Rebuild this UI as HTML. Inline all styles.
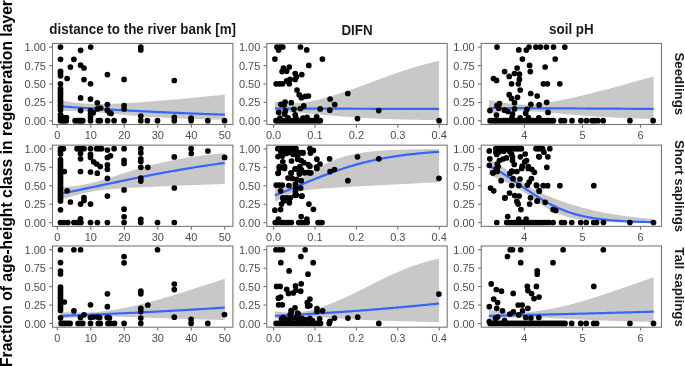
<!DOCTYPE html><html><head><meta charset="utf-8"><style>html,body{margin:0;padding:0;background:#fff;overflow:hidden}svg{display:block;will-change:transform}text{font-family:"Liberation Sans",sans-serif}</style></head><body>
<svg width="685" height="366" viewBox="0 0 685 366">
<rect width="685" height="366" fill="#fff"/>
<polygon points="60.50,100.24 62.35,100.60 64.19,100.95 66.04,101.28 67.88,101.59 69.73,101.89 71.58,102.17 73.42,102.43 75.27,102.67 77.11,102.89 78.96,103.09 80.81,103.27 82.65,103.43 84.50,103.57 86.34,103.69 88.19,103.79 90.04,103.88 91.88,103.94 93.73,103.99 95.58,104.03 97.42,104.05 99.27,104.05 101.11,104.05 102.96,104.03 104.81,104.00 106.65,103.97 108.50,103.92 110.34,103.87 112.19,103.80 114.04,103.73 115.88,103.66 117.73,103.58 119.57,103.49 121.42,103.40 123.27,103.30 125.11,103.20 126.96,103.10 128.80,102.99 130.65,102.87 132.50,102.76 134.34,102.64 136.19,102.52 138.03,102.39 139.88,102.27 141.73,102.14 143.57,102.00 145.42,101.87 147.27,101.73 149.11,101.59 150.96,101.45 152.80,101.31 154.65,101.16 156.50,101.02 158.34,100.87 160.19,100.72 162.03,100.56 163.88,100.41 165.73,100.26 167.57,100.10 169.42,99.94 171.26,99.78 173.11,99.62 174.96,99.46 176.80,99.29 178.65,99.13 180.49,98.96 182.34,98.79 184.19,98.62 186.03,98.45 187.88,98.28 189.72,98.11 191.57,97.93 193.42,97.76 195.26,97.58 197.11,97.40 198.96,97.22 200.80,97.05 202.65,96.86 204.49,96.68 206.34,96.50 208.19,96.32 210.03,96.13 211.88,95.95 213.72,95.76 215.57,95.57 217.42,95.38 219.26,95.19 221.11,95.00 222.95,94.81 224.80,94.62 224.80,119.72 222.95,119.69 221.11,119.65 219.26,119.61 217.42,119.57 215.57,119.53 213.72,119.49 211.88,119.45 210.03,119.40 208.19,119.35 206.34,119.30 204.49,119.26 202.65,119.20 200.80,119.15 198.96,119.10 197.11,119.04 195.26,118.98 193.42,118.92 191.57,118.86 189.72,118.80 187.88,118.73 186.03,118.66 184.19,118.59 182.34,118.52 180.49,118.44 178.65,118.37 176.80,118.29 174.96,118.21 173.11,118.12 171.26,118.04 169.42,117.95 167.57,117.86 165.73,117.76 163.88,117.67 162.03,117.57 160.19,117.46 158.34,117.36 156.50,117.25 154.65,117.14 152.80,117.02 150.96,116.91 149.11,116.79 147.27,116.66 145.42,116.54 143.57,116.41 141.73,116.27 139.88,116.14 138.03,116.00 136.19,115.86 134.34,115.71 132.50,115.56 130.65,115.41 128.80,115.25 126.96,115.10 125.11,114.94 123.27,114.77 121.42,114.61 119.57,114.44 117.73,114.27 115.88,114.10 114.04,113.93 112.19,113.75 110.34,113.58 108.50,113.41 106.65,113.23 104.81,113.06 102.96,112.89 101.11,112.72 99.27,112.56 97.42,112.39 95.58,112.24 93.73,112.09 91.88,111.95 90.04,111.81 88.19,111.69 86.34,111.57 84.50,111.46 82.65,111.37 80.81,111.28 78.96,111.21 77.11,111.15 75.27,111.10 73.42,111.06 71.58,111.03 69.73,111.01 67.88,111.00 66.04,110.99 64.19,111.00 62.35,111.01 60.50,111.03" fill="#c8c8c8"/>
<polyline points="60.50,106.38 62.35,106.51 64.19,106.64 66.04,106.77 67.88,106.89 69.73,107.02 71.58,107.14 73.42,107.27 75.27,107.39 77.11,107.51 78.96,107.63 80.81,107.75 82.65,107.87 84.50,107.99 86.34,108.11 88.19,108.22 90.04,108.34 91.88,108.45 93.73,108.57 95.58,108.68 97.42,108.79 99.27,108.91 101.11,109.02 102.96,109.13 104.81,109.24 106.65,109.34 108.50,109.45 110.34,109.56 112.19,109.66 114.04,109.77 115.88,109.87 117.73,109.98 119.57,110.08 121.42,110.18 123.27,110.28 125.11,110.38 126.96,110.48 128.80,110.58 130.65,110.68 132.50,110.77 134.34,110.87 136.19,110.96 138.03,111.06 139.88,111.15 141.73,111.25 143.57,111.34 145.42,111.43 147.27,111.52 149.11,111.61 150.96,111.70 152.80,111.79 154.65,111.88 156.50,111.96 158.34,112.05 160.19,112.13 162.03,112.22 163.88,112.30 165.73,112.39 167.57,112.47 169.42,112.55 171.26,112.63 173.11,112.71 174.96,112.79 176.80,112.87 178.65,112.95 180.49,113.03 182.34,113.11 184.19,113.18 186.03,113.26 187.88,113.33 189.72,113.41 191.57,113.48 193.42,113.55 195.26,113.63 197.11,113.70 198.96,113.77 200.80,113.84 202.65,113.91 204.49,113.98 206.34,114.05 208.19,114.12 210.03,114.18 211.88,114.25 213.72,114.32 215.57,114.38 217.42,114.45 219.26,114.51 221.11,114.57 222.95,114.64 224.80,114.70" fill="none" stroke="#3366ff" stroke-width="2.2" stroke-linejoin="round"/>
<g fill="#000">
<circle cx="60.5" cy="47.05" r="2.85"/>
<circle cx="90.7" cy="47.05" r="2.85"/>
<circle cx="140.8" cy="47.05" r="2.85"/>
<circle cx="80.6" cy="50.3" r="2.85"/>
<circle cx="140.8" cy="49.9" r="2.85"/>
<circle cx="60.5" cy="59.3" r="2.85"/>
<circle cx="73.9" cy="59.3" r="2.85"/>
<circle cx="80.6" cy="65.2" r="2.85"/>
<circle cx="70.4" cy="67.1" r="2.85"/>
<circle cx="84.0" cy="68.0" r="2.85"/>
<circle cx="60.5" cy="71.3" r="2.85"/>
<circle cx="60.5" cy="73.5" r="2.85"/>
<circle cx="60.5" cy="75.8" r="2.85"/>
<circle cx="107.4" cy="74.6" r="2.85"/>
<circle cx="67.1" cy="78.5" r="2.85"/>
<circle cx="124.1" cy="79.4" r="2.85"/>
<circle cx="84.0" cy="79.6" r="2.85"/>
<circle cx="174.3" cy="80.5" r="2.85"/>
<circle cx="60.5" cy="83.75" r="2.85"/>
<circle cx="90.5" cy="83.75" r="2.85"/>
<circle cx="60.5" cy="88.5" r="2.85"/>
<circle cx="60.5" cy="90.9" r="2.85"/>
<circle cx="60.5" cy="93.3" r="2.85"/>
<circle cx="60.5" cy="95.7" r="2.85"/>
<circle cx="60.5" cy="98.1" r="2.85"/>
<circle cx="60.5" cy="100.5" r="2.85"/>
<circle cx="60.5" cy="102.9" r="2.85"/>
<circle cx="60.5" cy="105.3" r="2.85"/>
<circle cx="60.5" cy="107.7" r="2.85"/>
<circle cx="60.5" cy="110.1" r="2.85"/>
<circle cx="80.6" cy="97.9" r="2.85"/>
<circle cx="90.5" cy="99.1" r="2.85"/>
<circle cx="97.3" cy="102.8" r="2.85"/>
<circle cx="107.4" cy="104.5" r="2.85"/>
<circle cx="124.1" cy="105.6" r="2.85"/>
<circle cx="100.6" cy="108.0" r="2.85"/>
<circle cx="97.3" cy="108.9" r="2.85"/>
<circle cx="124.1" cy="108.9" r="2.85"/>
<circle cx="80.6" cy="110.6" r="2.85"/>
<circle cx="90.5" cy="110.6" r="2.85"/>
<circle cx="107.4" cy="110.2" r="2.85"/>
<circle cx="93.2" cy="112.8" r="2.85"/>
<circle cx="109.4" cy="112.8" r="2.85"/>
<circle cx="111" cy="113.5" r="2.85"/>
<circle cx="90.5" cy="114.1" r="2.85"/>
<circle cx="60.5" cy="114.5" r="2.85"/>
<circle cx="60.5" cy="117.5" r="2.85"/>
<circle cx="63.5" cy="117.6" r="2.85"/>
<circle cx="66.5" cy="117.6" r="2.85"/>
<circle cx="140.8" cy="116.1" r="2.85"/>
<circle cx="174.3" cy="117.4" r="2.85"/>
<circle cx="191.1" cy="118.2" r="2.85"/>
<circle cx="90.5" cy="117.3" r="2.85"/>
<circle cx="60.5" cy="120.7" r="2.85"/>
<circle cx="62.5" cy="120.7" r="2.85"/>
<circle cx="64.5" cy="120.7" r="2.85"/>
<circle cx="66.3" cy="120.7" r="2.85"/>
<circle cx="75.1" cy="120.7" r="2.85"/>
<circle cx="77.4" cy="120.7" r="2.85"/>
<circle cx="79.5" cy="120.7" r="2.85"/>
<circle cx="81" cy="120.7" r="2.85"/>
<circle cx="82.8" cy="120.7" r="2.85"/>
<circle cx="90.5" cy="120.7" r="2.85"/>
<circle cx="98.3" cy="120.7" r="2.85"/>
<circle cx="100.3" cy="120.7" r="2.85"/>
<circle cx="107.6" cy="120.7" r="2.85"/>
<circle cx="114.1" cy="120.7" r="2.85"/>
<circle cx="124.1" cy="120.7" r="2.85"/>
<circle cx="140.8" cy="120.7" r="2.85"/>
<circle cx="147.4" cy="120.7" r="2.85"/>
<circle cx="157.5" cy="120.7" r="2.85"/>
<circle cx="174.3" cy="120.7" r="2.85"/>
<circle cx="191.1" cy="120.7" r="2.85"/>
<circle cx="207.8" cy="120.7" r="2.85"/>
<circle cx="224.5" cy="120.7" r="2.85"/>
</g>
<rect x="52.5" y="43.45" width="180.40" height="81.03" fill="none" stroke="#727272" stroke-width="1.05"/>
<line x1="49.20" y1="120.80" x2="52.50" y2="120.80" stroke="#727272" stroke-width="1.1"/>
<text x="46.00" y="124.80" font-size="11" fill="#4d4d4d" text-anchor="end">0.00</text>
<line x1="49.20" y1="102.38" x2="52.50" y2="102.38" stroke="#727272" stroke-width="1.1"/>
<text x="46.00" y="106.38" font-size="11" fill="#4d4d4d" text-anchor="end">0.25</text>
<line x1="49.20" y1="83.97" x2="52.50" y2="83.97" stroke="#727272" stroke-width="1.1"/>
<text x="46.00" y="87.97" font-size="11" fill="#4d4d4d" text-anchor="end">0.50</text>
<line x1="49.20" y1="65.55" x2="52.50" y2="65.55" stroke="#727272" stroke-width="1.1"/>
<text x="46.00" y="69.55" font-size="11" fill="#4d4d4d" text-anchor="end">0.75</text>
<line x1="49.20" y1="47.13" x2="52.50" y2="47.13" stroke="#727272" stroke-width="1.1"/>
<text x="46.00" y="51.13" font-size="11" fill="#4d4d4d" text-anchor="end">1.00</text>
<line x1="57.30" y1="124.48" x2="57.30" y2="127.78" stroke="#727272" stroke-width="1.1"/>
<text x="57.30" y="138.78" font-size="11" fill="#4d4d4d" text-anchor="middle">0</text>
<line x1="90.80" y1="124.48" x2="90.80" y2="127.78" stroke="#727272" stroke-width="1.1"/>
<text x="90.80" y="138.78" font-size="11" fill="#4d4d4d" text-anchor="middle">10</text>
<line x1="124.30" y1="124.48" x2="124.30" y2="127.78" stroke="#727272" stroke-width="1.1"/>
<text x="124.30" y="138.78" font-size="11" fill="#4d4d4d" text-anchor="middle">20</text>
<line x1="157.80" y1="124.48" x2="157.80" y2="127.78" stroke="#727272" stroke-width="1.1"/>
<text x="157.80" y="138.78" font-size="11" fill="#4d4d4d" text-anchor="middle">30</text>
<line x1="191.30" y1="124.48" x2="191.30" y2="127.78" stroke="#727272" stroke-width="1.1"/>
<text x="191.30" y="138.78" font-size="11" fill="#4d4d4d" text-anchor="middle">40</text>
<line x1="224.80" y1="124.48" x2="224.80" y2="127.78" stroke="#727272" stroke-width="1.1"/>
<text x="224.80" y="138.78" font-size="11" fill="#4d4d4d" text-anchor="middle">50</text>
<polygon points="274.90,101.30 276.74,101.65 278.59,101.98 280.43,102.27 282.28,102.52 284.12,102.75 285.97,102.93 287.81,103.07 289.66,103.17 291.50,103.22 293.35,103.23 295.19,103.20 297.04,103.12 298.88,102.99 300.73,102.83 302.57,102.62 304.42,102.39 306.26,102.11 308.11,101.81 309.95,101.48 311.80,101.12 313.64,100.74 315.49,100.33 317.33,99.90 319.18,99.46 321.02,98.99 322.87,98.51 324.71,98.02 326.56,97.50 328.40,96.98 330.25,96.44 332.09,95.88 333.94,95.32 335.78,94.74 337.63,94.16 339.47,93.56 341.32,92.95 343.16,92.34 345.01,91.71 346.85,91.08 348.70,90.44 350.54,89.79 352.39,89.14 354.23,88.48 356.08,87.82 357.92,87.15 359.77,86.48 361.61,85.81 363.46,85.13 365.30,84.45 367.15,83.77 368.99,83.08 370.84,82.40 372.68,81.72 374.53,81.03 376.37,80.35 378.22,79.67 380.06,78.99 381.91,78.32 383.75,77.65 385.60,76.98 387.44,76.31 389.29,75.65 391.13,75.00 392.98,74.35 394.82,73.70 396.67,73.07 398.51,72.43 400.36,71.81 402.20,71.19 404.05,70.58 405.89,69.98 407.74,69.39 409.58,68.81 411.43,68.23 413.27,67.66 415.12,67.11 416.96,66.56 418.81,66.02 420.65,65.49 422.50,64.97 424.34,64.46 426.19,63.96 428.03,63.47 429.88,62.99 431.72,62.53 433.57,62.07 435.41,61.62 437.26,61.18 439.10,60.75 439.10,120.19 437.26,120.17 435.41,120.14 433.57,120.12 431.72,120.09 429.88,120.06 428.03,120.03 426.19,120.00 424.34,119.97 422.50,119.94 420.65,119.90 418.81,119.87 416.96,119.83 415.12,119.80 413.27,119.76 411.43,119.72 409.58,119.67 407.74,119.63 405.89,119.58 404.05,119.54 402.20,119.49 400.36,119.44 398.51,119.38 396.67,119.33 394.82,119.27 392.98,119.21 391.13,119.15 389.29,119.09 387.44,119.02 385.60,118.95 383.75,118.88 381.91,118.81 380.06,118.73 378.22,118.65 376.37,118.57 374.53,118.49 372.68,118.40 370.84,118.31 368.99,118.22 367.15,118.12 365.30,118.02 363.46,117.92 361.61,117.81 359.77,117.70 357.92,117.59 356.08,117.47 354.23,117.35 352.39,117.22 350.54,117.09 348.70,116.96 346.85,116.82 345.01,116.68 343.16,116.54 341.32,116.39 339.47,116.24 337.63,116.08 335.78,115.92 333.94,115.75 332.09,115.59 330.25,115.42 328.40,115.24 326.56,115.07 324.71,114.89 322.87,114.70 321.02,114.52 319.18,114.34 317.33,114.16 315.49,113.97 313.64,113.79 311.80,113.62 309.95,113.45 308.11,113.28 306.26,113.13 304.42,112.99 302.57,112.86 300.73,112.74 298.88,112.65 297.04,112.57 295.19,112.52 293.35,112.49 291.50,112.49 289.66,112.51 287.81,112.56 285.97,112.62 284.12,112.71 282.28,112.82 280.43,112.95 278.59,113.08 276.74,113.23 274.90,113.39" fill="#c8c8c8"/>
<polyline points="274.90,108.49 276.74,108.50 278.59,108.50 280.43,108.51 282.28,108.51 284.12,108.52 285.97,108.52 287.81,108.53 289.66,108.54 291.50,108.54 293.35,108.55 295.19,108.55 297.04,108.56 298.88,108.56 300.73,108.57 302.57,108.57 304.42,108.58 306.26,108.59 308.11,108.59 309.95,108.60 311.80,108.60 313.64,108.61 315.49,108.61 317.33,108.62 319.18,108.62 321.02,108.63 322.87,108.64 324.71,108.64 326.56,108.65 328.40,108.65 330.25,108.66 332.09,108.66 333.94,108.67 335.78,108.67 337.63,108.68 339.47,108.68 341.32,108.69 343.16,108.70 345.01,108.70 346.85,108.71 348.70,108.71 350.54,108.72 352.39,108.72 354.23,108.73 356.08,108.73 357.92,108.74 359.77,108.74 361.61,108.75 363.46,108.76 365.30,108.76 367.15,108.77 368.99,108.77 370.84,108.78 372.68,108.78 374.53,108.79 376.37,108.79 378.22,108.80 380.06,108.80 381.91,108.81 383.75,108.82 385.60,108.82 387.44,108.83 389.29,108.83 391.13,108.84 392.98,108.84 394.82,108.85 396.67,108.85 398.51,108.86 400.36,108.86 402.20,108.87 404.05,108.88 405.89,108.88 407.74,108.89 409.58,108.89 411.43,108.90 413.27,108.90 415.12,108.91 416.96,108.91 418.81,108.92 420.65,108.92 422.50,108.93 424.34,108.93 426.19,108.94 428.03,108.95 429.88,108.95 431.72,108.96 433.57,108.96 435.41,108.97 437.26,108.97 439.10,108.98" fill="none" stroke="#3366ff" stroke-width="2.2" stroke-linejoin="round"/>
<g fill="#000">
<circle cx="276.9" cy="47.0" r="2.85"/>
<circle cx="280.1" cy="47.0" r="2.85"/>
<circle cx="282.8" cy="47.0" r="2.85"/>
<circle cx="278.6" cy="50.1" r="2.85"/>
<circle cx="300.5" cy="47.0" r="2.85"/>
<circle cx="306.7" cy="49.9" r="2.85"/>
<circle cx="274.9" cy="59.1" r="2.85"/>
<circle cx="322.4" cy="59.1" r="2.85"/>
<circle cx="308.8" cy="65.4" r="2.85"/>
<circle cx="283.4" cy="68.0" r="2.85"/>
<circle cx="289.3" cy="67.0" r="2.85"/>
<circle cx="282.1" cy="71.6" r="2.85"/>
<circle cx="286.7" cy="71.2" r="2.85"/>
<circle cx="295.2" cy="73.5" r="2.85"/>
<circle cx="301.8" cy="74.6" r="2.85"/>
<circle cx="296.6" cy="76.8" r="2.85"/>
<circle cx="295.2" cy="79.4" r="2.85"/>
<circle cx="290.0" cy="79.4" r="2.85"/>
<circle cx="286.7" cy="80.8" r="2.85"/>
<circle cx="289.3" cy="83.8" r="2.85"/>
<circle cx="276.2" cy="83.8" r="2.85"/>
<circle cx="279.5" cy="83.8" r="2.85"/>
<circle cx="282.5" cy="83.8" r="2.85"/>
<circle cx="297" cy="90.1" r="2.85"/>
<circle cx="299.2" cy="94.8" r="2.85"/>
<circle cx="301.4" cy="97.7" r="2.85"/>
<circle cx="305.1" cy="96.4" r="2.85"/>
<circle cx="308.4" cy="96" r="2.85"/>
<circle cx="285.1" cy="102" r="2.85"/>
<circle cx="280.8" cy="104.3" r="2.85"/>
<circle cx="291.3" cy="102.7" r="2.85"/>
<circle cx="284.1" cy="104.9" r="2.85"/>
<circle cx="303.8" cy="105.9" r="2.85"/>
<circle cx="300.5" cy="108.5" r="2.85"/>
<circle cx="293.9" cy="109.3" r="2.85"/>
<circle cx="278.8" cy="112.4" r="2.85"/>
<circle cx="285.4" cy="110.8" r="2.85"/>
<circle cx="284.7" cy="114.1" r="2.85"/>
<circle cx="295.2" cy="114.8" r="2.85"/>
<circle cx="320.2" cy="108.9" r="2.85"/>
<circle cx="330.1" cy="99.0" r="2.85"/>
<circle cx="334.7" cy="104.5" r="2.85"/>
<circle cx="329.8" cy="110.2" r="2.85"/>
<circle cx="347.8" cy="93.5" r="2.85"/>
<circle cx="357.5" cy="118.6" r="2.85"/>
<circle cx="378.7" cy="110.6" r="2.85"/>
<circle cx="439.1" cy="120.7" r="2.85"/>
<circle cx="316.7" cy="116.8" r="2.85"/>
<circle cx="307.1" cy="117.4" r="2.85"/>
<circle cx="280" cy="118" r="2.85"/>
<circle cx="288" cy="117.8" r="2.85"/>
<circle cx="296" cy="118.2" r="2.85"/>
<circle cx="303" cy="118" r="2.85"/>
<circle cx="276.0" cy="120.7" r="2.85"/>
<circle cx="278.21" cy="120.7" r="2.85"/>
<circle cx="280.43" cy="120.7" r="2.85"/>
<circle cx="282.64" cy="120.7" r="2.85"/>
<circle cx="284.86" cy="120.7" r="2.85"/>
<circle cx="287.07" cy="120.7" r="2.85"/>
<circle cx="289.29" cy="120.7" r="2.85"/>
<circle cx="291.5" cy="120.7" r="2.85"/>
<circle cx="293.72" cy="120.7" r="2.85"/>
<circle cx="295.94" cy="120.7" r="2.85"/>
<circle cx="298.15" cy="120.7" r="2.85"/>
<circle cx="300.37" cy="120.7" r="2.85"/>
<circle cx="302.58" cy="120.7" r="2.85"/>
<circle cx="304.8" cy="120.7" r="2.85"/>
<circle cx="307.01" cy="120.7" r="2.85"/>
<circle cx="309.23" cy="120.7" r="2.85"/>
<circle cx="311.44" cy="120.7" r="2.85"/>
<circle cx="313.66" cy="120.7" r="2.85"/>
<circle cx="315.87" cy="120.7" r="2.85"/>
<circle cx="318.09" cy="120.7" r="2.85"/>
<circle cx="320.3" cy="120.7" r="2.85"/>
</g>
<rect x="266.8" y="43.45" width="180.40" height="81.03" fill="none" stroke="#727272" stroke-width="1.05"/>
<line x1="263.50" y1="120.80" x2="266.80" y2="120.80" stroke="#727272" stroke-width="1.1"/>
<text x="260.30" y="124.80" font-size="11" fill="#4d4d4d" text-anchor="end">0.00</text>
<line x1="263.50" y1="102.38" x2="266.80" y2="102.38" stroke="#727272" stroke-width="1.1"/>
<text x="260.30" y="106.38" font-size="11" fill="#4d4d4d" text-anchor="end">0.25</text>
<line x1="263.50" y1="83.97" x2="266.80" y2="83.97" stroke="#727272" stroke-width="1.1"/>
<text x="260.30" y="87.97" font-size="11" fill="#4d4d4d" text-anchor="end">0.50</text>
<line x1="263.50" y1="65.55" x2="266.80" y2="65.55" stroke="#727272" stroke-width="1.1"/>
<text x="260.30" y="69.55" font-size="11" fill="#4d4d4d" text-anchor="end">0.75</text>
<line x1="263.50" y1="47.13" x2="266.80" y2="47.13" stroke="#727272" stroke-width="1.1"/>
<text x="260.30" y="51.13" font-size="11" fill="#4d4d4d" text-anchor="end">1.00</text>
<line x1="273.60" y1="124.48" x2="273.60" y2="127.78" stroke="#727272" stroke-width="1.1"/>
<text x="273.60" y="138.78" font-size="11" fill="#4d4d4d" text-anchor="middle">0.0</text>
<line x1="315.00" y1="124.48" x2="315.00" y2="127.78" stroke="#727272" stroke-width="1.1"/>
<text x="315.00" y="138.78" font-size="11" fill="#4d4d4d" text-anchor="middle">0.1</text>
<line x1="356.40" y1="124.48" x2="356.40" y2="127.78" stroke="#727272" stroke-width="1.1"/>
<text x="356.40" y="138.78" font-size="11" fill="#4d4d4d" text-anchor="middle">0.2</text>
<line x1="397.80" y1="124.48" x2="397.80" y2="127.78" stroke="#727272" stroke-width="1.1"/>
<text x="397.80" y="138.78" font-size="11" fill="#4d4d4d" text-anchor="middle">0.3</text>
<line x1="439.20" y1="124.48" x2="439.20" y2="127.78" stroke="#727272" stroke-width="1.1"/>
<text x="439.20" y="138.78" font-size="11" fill="#4d4d4d" text-anchor="middle">0.4</text>
<polygon points="488.90,99.88 490.75,100.27 492.60,100.66 494.45,101.03 496.30,101.39 498.15,101.73 500.00,102.07 501.85,102.39 503.70,102.70 505.56,102.99 507.41,103.27 509.26,103.52 511.11,103.76 512.96,103.97 514.81,104.16 516.66,104.32 518.51,104.45 520.36,104.55 522.21,104.62 524.06,104.65 525.91,104.65 527.76,104.61 529.61,104.54 531.46,104.44 533.31,104.31 535.16,104.15 537.01,103.97 538.87,103.77 540.72,103.54 542.57,103.30 544.42,103.04 546.27,102.76 548.12,102.47 549.97,102.17 551.82,101.86 553.67,101.53 555.52,101.20 557.37,100.85 559.22,100.50 561.07,100.14 562.92,99.77 564.77,99.39 566.62,99.00 568.47,98.61 570.32,98.21 572.18,97.81 574.03,97.39 575.88,96.98 577.73,96.55 579.58,96.12 581.43,95.69 583.28,95.25 585.13,94.80 586.98,94.35 588.83,93.90 590.68,93.44 592.53,92.97 594.38,92.50 596.23,92.03 598.08,91.56 599.93,91.08 601.78,90.60 603.63,90.11 605.49,89.62 607.34,89.13 609.19,88.64 611.04,88.14 612.89,87.65 614.74,87.15 616.59,86.65 618.44,86.14 620.29,85.64 622.14,85.14 623.99,84.63 625.84,84.13 627.69,83.62 629.54,83.11 631.39,82.61 633.24,82.10 635.09,81.59 636.94,81.09 638.80,80.58 640.65,80.08 642.50,79.58 644.35,79.08 646.20,78.58 648.05,78.08 649.90,77.58 651.75,77.09 653.60,76.60 653.60,119.02 651.75,118.97 649.90,118.91 648.05,118.86 646.20,118.80 644.35,118.74 642.50,118.68 640.65,118.62 638.80,118.56 636.94,118.49 635.09,118.42 633.24,118.36 631.39,118.28 629.54,118.21 627.69,118.14 625.84,118.06 623.99,117.98 622.14,117.90 620.29,117.82 618.44,117.73 616.59,117.64 614.74,117.56 612.89,117.46 611.04,117.37 609.19,117.27 607.34,117.17 605.49,117.07 603.63,116.96 601.78,116.86 599.93,116.75 598.08,116.63 596.23,116.52 594.38,116.40 592.53,116.28 590.68,116.16 588.83,116.03 586.98,115.90 585.13,115.77 583.28,115.63 581.43,115.49 579.58,115.35 577.73,115.21 575.88,115.06 574.03,114.91 572.18,114.75 570.32,114.60 568.47,114.44 566.62,114.28 564.77,114.12 562.92,113.95 561.07,113.78 559.22,113.61 557.37,113.44 555.52,113.27 553.67,113.09 551.82,112.92 549.97,112.75 548.12,112.57 546.27,112.40 544.42,112.24 542.57,112.07 540.72,111.91 538.87,111.76 537.01,111.62 535.16,111.49 533.31,111.38 531.46,111.28 529.61,111.19 527.76,111.13 525.91,111.09 524.06,111.07 522.21,111.07 520.36,111.10 518.51,111.15 516.66,111.22 514.81,111.31 512.96,111.41 511.11,111.53 509.26,111.66 507.41,111.79 505.56,111.94 503.70,112.09 501.85,112.24 500.00,112.40 498.15,112.56 496.30,112.73 494.45,112.89 492.60,113.06 490.75,113.22 488.90,113.38" fill="#c8c8c8"/>
<polyline points="488.90,107.98 490.75,107.99 492.60,108.00 494.45,108.01 496.30,108.02 498.15,108.03 500.00,108.04 501.85,108.05 503.70,108.06 505.56,108.08 507.41,108.09 509.26,108.10 511.11,108.11 512.96,108.12 514.81,108.13 516.66,108.14 518.51,108.15 520.36,108.16 522.21,108.17 524.06,108.18 525.91,108.19 527.76,108.20 529.61,108.21 531.46,108.22 533.31,108.23 535.16,108.24 537.01,108.25 538.87,108.26 540.72,108.27 542.57,108.29 544.42,108.30 546.27,108.31 548.12,108.32 549.97,108.33 551.82,108.34 553.67,108.35 555.52,108.36 557.37,108.37 559.22,108.38 561.07,108.39 562.92,108.40 564.77,108.41 566.62,108.42 568.47,108.43 570.32,108.44 572.18,108.45 574.03,108.46 575.88,108.47 577.73,108.48 579.58,108.49 581.43,108.50 583.28,108.51 585.13,108.52 586.98,108.53 588.83,108.54 590.68,108.55 592.53,108.56 594.38,108.57 596.23,108.58 598.08,108.59 599.93,108.61 601.78,108.62 603.63,108.63 605.49,108.64 607.34,108.65 609.19,108.66 611.04,108.67 612.89,108.68 614.74,108.69 616.59,108.70 618.44,108.71 620.29,108.72 622.14,108.73 623.99,108.74 625.84,108.75 627.69,108.76 629.54,108.77 631.39,108.78 633.24,108.79 635.09,108.80 636.94,108.81 638.80,108.82 640.65,108.83 642.50,108.84 644.35,108.85 646.20,108.86 648.05,108.87 649.90,108.88 651.75,108.89 653.60,108.90" fill="none" stroke="#3366ff" stroke-width="2.2" stroke-linejoin="round"/>
<g fill="#000">
<circle cx="497.0" cy="47.05" r="2.85"/>
<circle cx="529.0" cy="47.05" r="2.85"/>
<circle cx="535.9" cy="47.05" r="2.85"/>
<circle cx="540.4" cy="47.05" r="2.85"/>
<circle cx="546.4" cy="47.05" r="2.85"/>
<circle cx="553.5" cy="47.05" r="2.85"/>
<circle cx="564.8" cy="47.05" r="2.85"/>
<circle cx="518.8" cy="49.9" r="2.85"/>
<circle cx="526.3" cy="50.1" r="2.85"/>
<circle cx="522.4" cy="59.1" r="2.85"/>
<circle cx="555.2" cy="59.1" r="2.85"/>
<circle cx="529.6" cy="65.4" r="2.85"/>
<circle cx="545.1" cy="67.0" r="2.85"/>
<circle cx="517.1" cy="68.0" r="2.85"/>
<circle cx="504.6" cy="71.6" r="2.85"/>
<circle cx="530.3" cy="71.6" r="2.85"/>
<circle cx="514.5" cy="73.5" r="2.85"/>
<circle cx="519.4" cy="74.2" r="2.85"/>
<circle cx="509.2" cy="76.4" r="2.85"/>
<circle cx="493.5" cy="78.5" r="2.85"/>
<circle cx="496.5" cy="80.4" r="2.85"/>
<circle cx="519.4" cy="79.4" r="2.85"/>
<circle cx="511.5" cy="83.8" r="2.85"/>
<circle cx="518.4" cy="83.8" r="2.85"/>
<circle cx="543.4" cy="83.8" r="2.85"/>
<circle cx="547.4" cy="83.8" r="2.85"/>
<circle cx="559.8" cy="83.8" r="2.85"/>
<circle cx="520.2" cy="90.1" r="2.85"/>
<circle cx="530.7" cy="93.5" r="2.85"/>
<circle cx="537.2" cy="96.0" r="2.85"/>
<circle cx="509.2" cy="94.7" r="2.85"/>
<circle cx="511.5" cy="98.4" r="2.85"/>
<circle cx="517.5" cy="97.3" r="2.85"/>
<circle cx="514.5" cy="102.7" r="2.85"/>
<circle cx="499.4" cy="103.6" r="2.85"/>
<circle cx="497.0" cy="105.6" r="2.85"/>
<circle cx="498.7" cy="108.2" r="2.85"/>
<circle cx="530.9" cy="104.3" r="2.85"/>
<circle cx="539.1" cy="104.9" r="2.85"/>
<circle cx="546.7" cy="102.3" r="2.85"/>
<circle cx="514.5" cy="108.9" r="2.85"/>
<circle cx="504.6" cy="110.2" r="2.85"/>
<circle cx="507.9" cy="111.5" r="2.85"/>
<circle cx="489.9" cy="110.6" r="2.85"/>
<circle cx="527.0" cy="109.3" r="2.85"/>
<circle cx="525.7" cy="113.2" r="2.85"/>
<circle cx="548.0" cy="112.4" r="2.85"/>
<circle cx="496.5" cy="115.1" r="2.85"/>
<circle cx="512.5" cy="114.1" r="2.85"/>
<circle cx="512" cy="117.5" r="2.85"/>
<circle cx="520.2" cy="117.9" r="2.85"/>
<circle cx="528.3" cy="117.5" r="2.85"/>
<circle cx="538.8" cy="117.9" r="2.85"/>
<circle cx="490.1" cy="120.7" r="2.85"/>
<circle cx="492.28" cy="120.7" r="2.85"/>
<circle cx="494.47" cy="120.7" r="2.85"/>
<circle cx="496.65" cy="120.7" r="2.85"/>
<circle cx="498.83" cy="120.7" r="2.85"/>
<circle cx="501.01" cy="120.7" r="2.85"/>
<circle cx="503.2" cy="120.7" r="2.85"/>
<circle cx="505.38" cy="120.7" r="2.85"/>
<circle cx="507.56" cy="120.7" r="2.85"/>
<circle cx="509.74" cy="120.7" r="2.85"/>
<circle cx="511.93" cy="120.7" r="2.85"/>
<circle cx="514.11" cy="120.7" r="2.85"/>
<circle cx="516.29" cy="120.7" r="2.85"/>
<circle cx="518.48" cy="120.7" r="2.85"/>
<circle cx="520.66" cy="120.7" r="2.85"/>
<circle cx="522.84" cy="120.7" r="2.85"/>
<circle cx="525.02" cy="120.7" r="2.85"/>
<circle cx="527.21" cy="120.7" r="2.85"/>
<circle cx="529.39" cy="120.7" r="2.85"/>
<circle cx="531.57" cy="120.7" r="2.85"/>
<circle cx="533.76" cy="120.7" r="2.85"/>
<circle cx="535.94" cy="120.7" r="2.85"/>
<circle cx="538.12" cy="120.7" r="2.85"/>
<circle cx="540.3" cy="120.7" r="2.85"/>
<circle cx="542.49" cy="120.7" r="2.85"/>
<circle cx="544.67" cy="120.7" r="2.85"/>
<circle cx="546.85" cy="120.7" r="2.85"/>
<circle cx="549.03" cy="120.7" r="2.85"/>
<circle cx="551.22" cy="120.7" r="2.85"/>
<circle cx="553.4" cy="120.7" r="2.85"/>
<circle cx="561" cy="120.7" r="2.85"/>
<circle cx="564.5" cy="120.7" r="2.85"/>
<circle cx="572" cy="120.7" r="2.85"/>
<circle cx="580.9" cy="120.7" r="2.85"/>
<circle cx="586.5" cy="120.7" r="2.85"/>
<circle cx="592" cy="120.7" r="2.85"/>
<circle cx="594.6" cy="120.7" r="2.85"/>
<circle cx="597.9" cy="120.7" r="2.85"/>
<circle cx="603.2" cy="120.7" r="2.85"/>
<circle cx="629.9" cy="120.7" r="2.85"/>
<circle cx="653.1" cy="120.7" r="2.85"/>
</g>
<rect x="481.2" y="43.45" width="180.30" height="81.03" fill="none" stroke="#727272" stroke-width="1.05"/>
<line x1="477.90" y1="120.80" x2="481.20" y2="120.80" stroke="#727272" stroke-width="1.1"/>
<text x="474.70" y="124.80" font-size="11" fill="#4d4d4d" text-anchor="end">0.00</text>
<line x1="477.90" y1="102.38" x2="481.20" y2="102.38" stroke="#727272" stroke-width="1.1"/>
<text x="474.70" y="106.38" font-size="11" fill="#4d4d4d" text-anchor="end">0.25</text>
<line x1="477.90" y1="83.97" x2="481.20" y2="83.97" stroke="#727272" stroke-width="1.1"/>
<text x="474.70" y="87.97" font-size="11" fill="#4d4d4d" text-anchor="end">0.50</text>
<line x1="477.90" y1="65.55" x2="481.20" y2="65.55" stroke="#727272" stroke-width="1.1"/>
<text x="474.70" y="69.55" font-size="11" fill="#4d4d4d" text-anchor="end">0.75</text>
<line x1="477.90" y1="47.13" x2="481.20" y2="47.13" stroke="#727272" stroke-width="1.1"/>
<text x="474.70" y="51.13" font-size="11" fill="#4d4d4d" text-anchor="end">1.00</text>
<line x1="524.40" y1="124.48" x2="524.40" y2="127.78" stroke="#727272" stroke-width="1.1"/>
<text x="524.40" y="138.78" font-size="11" fill="#4d4d4d" text-anchor="middle">4</text>
<line x1="582.50" y1="124.48" x2="582.50" y2="127.78" stroke="#727272" stroke-width="1.1"/>
<text x="582.50" y="138.78" font-size="11" fill="#4d4d4d" text-anchor="middle">5</text>
<line x1="640.60" y1="124.48" x2="640.60" y2="127.78" stroke="#727272" stroke-width="1.1"/>
<text x="640.60" y="138.78" font-size="11" fill="#4d4d4d" text-anchor="middle">6</text>
<polygon points="60.50,187.39 62.35,187.24 64.19,187.09 66.04,186.92 67.88,186.74 69.73,186.55 71.58,186.35 73.42,186.13 75.27,185.90 77.11,185.65 78.96,185.38 80.81,185.09 82.65,184.78 84.50,184.44 86.34,184.08 88.19,183.70 90.04,183.29 91.88,182.86 93.73,182.40 95.58,181.93 97.42,181.43 99.27,180.92 101.11,180.39 102.96,179.84 104.81,179.29 106.65,178.72 108.50,178.15 110.34,177.57 112.19,176.98 114.04,176.39 115.88,175.80 117.73,175.21 119.57,174.62 121.42,174.02 123.27,173.44 125.11,172.85 126.96,172.27 128.80,171.69 130.65,171.12 132.50,170.55 134.34,169.99 136.19,169.44 138.03,168.89 139.88,168.35 141.73,167.82 143.57,167.30 145.42,166.78 147.27,166.28 149.11,165.78 150.96,165.30 152.80,164.82 154.65,164.35 156.50,163.89 158.34,163.44 160.19,163.00 162.03,162.57 163.88,162.15 165.73,161.74 167.57,161.34 169.42,160.95 171.26,160.57 173.11,160.19 174.96,159.83 176.80,159.48 178.65,159.13 180.49,158.80 182.34,158.47 184.19,158.16 186.03,157.85 187.88,157.55 189.72,157.26 191.57,156.98 193.42,156.70 195.26,156.44 197.11,156.18 198.96,155.93 200.80,155.68 202.65,155.45 204.49,155.22 206.34,155.00 208.19,154.78 210.03,154.58 211.88,154.38 213.72,154.18 215.57,153.99 217.42,153.81 219.26,153.64 221.11,153.46 222.95,153.30 224.80,153.14 224.80,183.93 222.95,184.00 221.11,184.06 219.26,184.13 217.42,184.20 215.57,184.27 213.72,184.33 211.88,184.40 210.03,184.47 208.19,184.54 206.34,184.61 204.49,184.67 202.65,184.74 200.80,184.81 198.96,184.88 197.11,184.95 195.26,185.02 193.42,185.09 191.57,185.16 189.72,185.23 187.88,185.30 186.03,185.37 184.19,185.45 182.34,185.52 180.49,185.59 178.65,185.66 176.80,185.74 174.96,185.81 173.11,185.88 171.26,185.96 169.42,186.03 167.57,186.11 165.73,186.19 163.88,186.26 162.03,186.34 160.19,186.42 158.34,186.50 156.50,186.58 154.65,186.66 152.80,186.74 150.96,186.83 149.11,186.91 147.27,187.00 145.42,187.08 143.57,187.17 141.73,187.26 139.88,187.35 138.03,187.45 136.19,187.54 134.34,187.64 132.50,187.74 130.65,187.84 128.80,187.95 126.96,188.06 125.11,188.17 123.27,188.29 121.42,188.41 119.57,188.53 117.73,188.66 115.88,188.80 114.04,188.94 112.19,189.10 110.34,189.26 108.50,189.43 106.65,189.61 104.81,189.80 102.96,190.01 101.11,190.23 99.27,190.46 97.42,190.72 95.58,190.99 93.73,191.28 91.88,191.60 90.04,191.93 88.19,192.29 86.34,192.68 84.50,193.08 82.65,193.51 80.81,193.95 78.96,194.42 77.11,194.90 75.27,195.39 73.42,195.90 71.58,196.42 69.73,196.95 67.88,197.48 66.04,198.02 64.19,198.56 62.35,199.10 60.50,199.65" fill="#c8c8c8"/>
<polyline points="60.50,193.75 62.35,193.38 64.19,193.01 66.04,192.63 67.88,192.25 69.73,191.87 71.58,191.49 73.42,191.11 75.27,190.73 77.11,190.35 78.96,189.96 80.81,189.58 82.65,189.19 84.50,188.80 86.34,188.42 88.19,188.03 90.04,187.64 91.88,187.25 93.73,186.86 95.58,186.47 97.42,186.08 99.27,185.69 101.11,185.30 102.96,184.91 104.81,184.52 106.65,184.13 108.50,183.74 110.34,183.35 112.19,182.96 114.04,182.58 115.88,182.19 117.73,181.80 119.57,181.42 121.42,181.03 123.27,180.65 125.11,180.27 126.96,179.89 128.80,179.51 130.65,179.13 132.50,178.75 134.34,178.38 136.19,178.00 138.03,177.63 139.88,177.26 141.73,176.89 143.57,176.53 145.42,176.16 147.27,175.80 149.11,175.44 150.96,175.08 152.80,174.72 154.65,174.37 156.50,174.02 158.34,173.67 160.19,173.32 162.03,172.97 163.88,172.63 165.73,172.29 167.57,171.96 169.42,171.62 171.26,171.29 173.11,170.96 174.96,170.64 176.80,170.31 178.65,169.99 180.49,169.67 182.34,169.36 184.19,169.05 186.03,168.74 187.88,168.43 189.72,168.13 191.57,167.83 193.42,167.53 195.26,167.24 197.11,166.95 198.96,166.66 200.80,166.38 202.65,166.10 204.49,165.82 206.34,165.54 208.19,165.27 210.03,165.00 211.88,164.74 213.72,164.48 215.57,164.22 217.42,163.96 219.26,163.71 221.11,163.46 222.95,163.21 224.80,162.97" fill="none" stroke="#3366ff" stroke-width="2.2" stroke-linejoin="round"/>
<g fill="#000">
<circle cx="60.5" cy="148.7" r="2.85"/>
<circle cx="63.4" cy="148.7" r="2.85"/>
<circle cx="77" cy="148.7" r="2.85"/>
<circle cx="79.2" cy="148.7" r="2.85"/>
<circle cx="81.8" cy="148.7" r="2.85"/>
<circle cx="84" cy="148.7" r="2.85"/>
<circle cx="90.5" cy="148.7" r="2.85"/>
<circle cx="96.7" cy="148.7" r="2.85"/>
<circle cx="99.3" cy="148.7" r="2.85"/>
<circle cx="101.5" cy="148.7" r="2.85"/>
<circle cx="114.1" cy="148.7" r="2.85"/>
<circle cx="124.1" cy="148.7" r="2.85"/>
<circle cx="140.8" cy="148.7" r="2.85"/>
<circle cx="191.1" cy="148.7" r="2.85"/>
<circle cx="60.5" cy="151.3" r="2.85"/>
<circle cx="60.5" cy="154" r="2.85"/>
<circle cx="80.5" cy="153.5" r="2.85"/>
<circle cx="80.5" cy="158.8" r="2.85"/>
<circle cx="107.4" cy="150" r="2.85"/>
<circle cx="90.5" cy="154.4" r="2.85"/>
<circle cx="90.5" cy="157.5" r="2.85"/>
<circle cx="93.6" cy="161.8" r="2.85"/>
<circle cx="96.7" cy="164" r="2.85"/>
<circle cx="100.2" cy="166.6" r="2.85"/>
<circle cx="107.4" cy="157.5" r="2.85"/>
<circle cx="110.5" cy="155.8" r="2.85"/>
<circle cx="107.4" cy="164.9" r="2.85"/>
<circle cx="107.4" cy="169.3" r="2.85"/>
<circle cx="107.4" cy="178.3" r="2.85"/>
<circle cx="107.4" cy="196.1" r="2.85"/>
<circle cx="60.5" cy="159.5" r="2.85"/>
<circle cx="60.5" cy="161.81" r="2.85"/>
<circle cx="60.5" cy="164.11" r="2.85"/>
<circle cx="60.5" cy="166.42" r="2.85"/>
<circle cx="60.5" cy="168.72" r="2.85"/>
<circle cx="60.5" cy="171.03" r="2.85"/>
<circle cx="60.5" cy="173.33" r="2.85"/>
<circle cx="60.5" cy="175.64" r="2.85"/>
<circle cx="60.5" cy="177.94" r="2.85"/>
<circle cx="60.5" cy="180.25" r="2.85"/>
<circle cx="60.5" cy="182.56" r="2.85"/>
<circle cx="60.5" cy="184.86" r="2.85"/>
<circle cx="60.5" cy="187.17" r="2.85"/>
<circle cx="60.5" cy="189.47" r="2.85"/>
<circle cx="60.5" cy="191.78" r="2.85"/>
<circle cx="60.5" cy="194.08" r="2.85"/>
<circle cx="60.5" cy="196.39" r="2.85"/>
<circle cx="60.5" cy="198.69" r="2.85"/>
<circle cx="60.5" cy="201.0" r="2.85"/>
<circle cx="60.5" cy="209.8" r="2.85"/>
<circle cx="64.3" cy="171.5" r="2.85"/>
<circle cx="80.5" cy="171.5" r="2.85"/>
<circle cx="90.5" cy="172" r="2.85"/>
<circle cx="97.3" cy="173.2" r="2.85"/>
<circle cx="67.1" cy="190.8" r="2.85"/>
<circle cx="84" cy="197.5" r="2.85"/>
<circle cx="84" cy="200.5" r="2.85"/>
<circle cx="70.4" cy="202" r="2.85"/>
<circle cx="80.5" cy="204.1" r="2.85"/>
<circle cx="90.5" cy="204.1" r="2.85"/>
<circle cx="80.5" cy="218.8" r="2.85"/>
<circle cx="60.5" cy="222.5" r="2.85"/>
<circle cx="63.8" cy="222.5" r="2.85"/>
<circle cx="67.8" cy="222.5" r="2.85"/>
<circle cx="73.9" cy="222.5" r="2.85"/>
<circle cx="77" cy="222.5" r="2.85"/>
<circle cx="79.2" cy="222.5" r="2.85"/>
<circle cx="80.9" cy="222.5" r="2.85"/>
<circle cx="90.5" cy="222.5" r="2.85"/>
<circle cx="97.4" cy="222.5" r="2.85"/>
<circle cx="107.4" cy="222.5" r="2.85"/>
<circle cx="124.1" cy="222.5" r="2.85"/>
<circle cx="140.8" cy="222.5" r="2.85"/>
<circle cx="157.5" cy="222.5" r="2.85"/>
<circle cx="174.3" cy="222.5" r="2.85"/>
<circle cx="140.8" cy="152.9" r="2.85"/>
<circle cx="140.8" cy="158.8" r="2.85"/>
<circle cx="140.8" cy="161.4" r="2.85"/>
<circle cx="140.8" cy="167.3" r="2.85"/>
<circle cx="147.8" cy="167.3" r="2.85"/>
<circle cx="140.8" cy="178.2" r="2.85"/>
<circle cx="140.8" cy="181.1" r="2.85"/>
<circle cx="124.1" cy="160.3" r="2.85"/>
<circle cx="124.1" cy="163.4" r="2.85"/>
<circle cx="174.3" cy="156.9" r="2.85"/>
<circle cx="174.3" cy="188.0" r="2.85"/>
<circle cx="124.1" cy="189.9" r="2.85"/>
<circle cx="124.1" cy="209.2" r="2.85"/>
<circle cx="124.1" cy="216.8" r="2.85"/>
<circle cx="140.8" cy="219.4" r="2.85"/>
<circle cx="191.3" cy="153.5" r="2.85"/>
<circle cx="207.9" cy="151" r="2.85"/>
<circle cx="224.6" cy="157.4" r="2.85"/>
</g>
<rect x="52.5" y="145.15" width="180.40" height="81.20" fill="none" stroke="#727272" stroke-width="1.05"/>
<line x1="49.20" y1="222.66" x2="52.50" y2="222.66" stroke="#727272" stroke-width="1.1"/>
<text x="46.00" y="226.66" font-size="11" fill="#4d4d4d" text-anchor="end">0.00</text>
<line x1="49.20" y1="204.20" x2="52.50" y2="204.20" stroke="#727272" stroke-width="1.1"/>
<text x="46.00" y="208.20" font-size="11" fill="#4d4d4d" text-anchor="end">0.25</text>
<line x1="49.20" y1="185.75" x2="52.50" y2="185.75" stroke="#727272" stroke-width="1.1"/>
<text x="46.00" y="189.75" font-size="11" fill="#4d4d4d" text-anchor="end">0.50</text>
<line x1="49.20" y1="167.30" x2="52.50" y2="167.30" stroke="#727272" stroke-width="1.1"/>
<text x="46.00" y="171.30" font-size="11" fill="#4d4d4d" text-anchor="end">0.75</text>
<line x1="49.20" y1="148.84" x2="52.50" y2="148.84" stroke="#727272" stroke-width="1.1"/>
<text x="46.00" y="152.84" font-size="11" fill="#4d4d4d" text-anchor="end">1.00</text>
<line x1="57.30" y1="226.35" x2="57.30" y2="229.65" stroke="#727272" stroke-width="1.1"/>
<text x="57.30" y="240.65" font-size="11" fill="#4d4d4d" text-anchor="middle">0</text>
<line x1="90.80" y1="226.35" x2="90.80" y2="229.65" stroke="#727272" stroke-width="1.1"/>
<text x="90.80" y="240.65" font-size="11" fill="#4d4d4d" text-anchor="middle">10</text>
<line x1="124.30" y1="226.35" x2="124.30" y2="229.65" stroke="#727272" stroke-width="1.1"/>
<text x="124.30" y="240.65" font-size="11" fill="#4d4d4d" text-anchor="middle">20</text>
<line x1="157.80" y1="226.35" x2="157.80" y2="229.65" stroke="#727272" stroke-width="1.1"/>
<text x="157.80" y="240.65" font-size="11" fill="#4d4d4d" text-anchor="middle">30</text>
<line x1="191.30" y1="226.35" x2="191.30" y2="229.65" stroke="#727272" stroke-width="1.1"/>
<text x="191.30" y="240.65" font-size="11" fill="#4d4d4d" text-anchor="middle">40</text>
<line x1="224.80" y1="226.35" x2="224.80" y2="229.65" stroke="#727272" stroke-width="1.1"/>
<text x="224.80" y="240.65" font-size="11" fill="#4d4d4d" text-anchor="middle">50</text>
<polygon points="274.90,187.89 276.74,187.62 278.59,187.32 280.43,186.97 282.28,186.58 284.12,186.13 285.97,185.61 287.81,185.01 289.66,184.33 291.50,183.56 293.35,182.70 295.19,181.76 297.04,180.75 298.88,179.68 300.73,178.57 302.57,177.42 304.42,176.26 306.26,175.09 308.11,173.92 309.95,172.75 311.80,171.60 313.64,170.47 315.49,169.36 317.33,168.28 319.18,167.23 321.02,166.21 322.87,165.23 324.71,164.28 326.56,163.38 328.40,162.51 330.25,161.68 332.09,160.88 333.94,160.13 335.78,159.42 337.63,158.74 339.47,158.09 341.32,157.49 343.16,156.91 345.01,156.37 346.85,155.87 348.70,155.39 350.54,154.94 352.39,154.52 354.23,154.13 356.08,153.76 357.92,153.41 359.77,153.09 361.61,152.79 363.46,152.51 365.30,152.25 367.15,152.00 368.99,151.77 370.84,151.56 372.68,151.36 374.53,151.18 376.37,151.01 378.22,150.85 380.06,150.70 381.91,150.57 383.75,150.44 385.60,150.32 387.44,150.21 389.29,150.11 391.13,150.02 392.98,149.93 394.82,149.85 396.67,149.77 398.51,149.71 400.36,149.64 402.20,149.58 404.05,149.53 405.89,149.47 407.74,149.43 409.58,149.38 411.43,149.34 413.27,149.31 415.12,149.27 416.96,149.24 418.81,149.21 420.65,149.18 422.50,149.16 424.34,149.13 426.19,149.11 428.03,149.09 429.88,149.07 431.72,149.05 433.57,149.04 435.41,149.02 437.26,149.01 439.10,149.00 439.10,182.29 437.26,182.38 435.41,182.47 433.57,182.56 431.72,182.65 429.88,182.74 428.03,182.83 426.19,182.92 424.34,183.01 422.50,183.10 420.65,183.19 418.81,183.28 416.96,183.37 415.12,183.46 413.27,183.56 411.43,183.65 409.58,183.74 407.74,183.83 405.89,183.92 404.05,184.02 402.20,184.11 400.36,184.20 398.51,184.29 396.67,184.39 394.82,184.48 392.98,184.57 391.13,184.67 389.29,184.76 387.44,184.85 385.60,184.95 383.75,185.04 381.91,185.14 380.06,185.23 378.22,185.33 376.37,185.43 374.53,185.52 372.68,185.62 370.84,185.72 368.99,185.81 367.15,185.91 365.30,186.01 363.46,186.11 361.61,186.21 359.77,186.31 357.92,186.41 356.08,186.51 354.23,186.61 352.39,186.72 350.54,186.82 348.70,186.93 346.85,187.03 345.01,187.14 343.16,187.25 341.32,187.36 339.47,187.47 337.63,187.59 335.78,187.70 333.94,187.82 332.09,187.94 330.25,188.06 328.40,188.19 326.56,188.32 324.71,188.46 322.87,188.59 321.02,188.74 319.18,188.89 317.33,189.05 315.49,189.21 313.64,189.39 311.80,189.58 309.95,189.78 308.11,190.00 306.26,190.24 304.42,190.51 302.57,190.80 300.73,191.14 298.88,191.52 297.04,191.95 295.19,192.45 293.35,193.01 291.50,193.66 289.66,194.38 287.81,195.19 285.97,196.06 284.12,196.99 282.28,197.96 280.43,198.97 278.59,200.00 276.74,201.03 274.90,202.06" fill="#c8c8c8"/>
<polyline points="274.90,195.36 276.74,194.64 278.59,193.91 280.43,193.18 282.28,192.44 284.12,191.69 285.97,190.94 287.81,190.18 289.66,189.42 291.50,188.66 293.35,187.90 295.19,187.13 297.04,186.36 298.88,185.59 300.73,184.83 302.57,184.06 304.42,183.29 306.26,182.53 308.11,181.77 309.95,181.01 311.80,180.26 313.64,179.51 315.49,178.76 317.33,178.02 319.18,177.29 321.02,176.57 322.87,175.85 324.71,175.14 326.56,174.44 328.40,173.75 330.25,173.07 332.09,172.39 333.94,171.73 335.78,171.08 337.63,170.44 339.47,169.81 341.32,169.19 343.16,168.58 345.01,167.98 346.85,167.40 348.70,166.83 350.54,166.27 352.39,165.72 354.23,165.18 356.08,164.66 357.92,164.15 359.77,163.65 361.61,163.16 363.46,162.69 365.30,162.22 367.15,161.77 368.99,161.33 370.84,160.91 372.68,160.49 374.53,160.09 376.37,159.70 378.22,159.32 380.06,158.95 381.91,158.59 383.75,158.25 385.60,157.91 387.44,157.58 389.29,157.27 391.13,156.96 392.98,156.67 394.82,156.38 396.67,156.10 398.51,155.83 400.36,155.57 402.20,155.32 404.05,155.08 405.89,154.85 407.74,154.62 409.58,154.40 411.43,154.19 413.27,153.99 415.12,153.79 416.96,153.61 418.81,153.42 420.65,153.25 422.50,153.08 424.34,152.91 426.19,152.76 428.03,152.61 429.88,152.46 431.72,152.32 433.57,152.18 435.41,152.05 437.26,151.93 439.10,151.81" fill="none" stroke="#3366ff" stroke-width="2.2" stroke-linejoin="round"/>
<g fill="#000">
<circle cx="277.8" cy="148.7" r="2.85"/>
<circle cx="280.07" cy="148.7" r="2.85"/>
<circle cx="282.35" cy="148.7" r="2.85"/>
<circle cx="284.62" cy="148.7" r="2.85"/>
<circle cx="286.9" cy="148.7" r="2.85"/>
<circle cx="289.18" cy="148.7" r="2.85"/>
<circle cx="291.45" cy="148.7" r="2.85"/>
<circle cx="293.73" cy="148.7" r="2.85"/>
<circle cx="296.0" cy="148.7" r="2.85"/>
<circle cx="309.9" cy="148.7" r="2.85"/>
<circle cx="313.4" cy="150.4" r="2.85"/>
<circle cx="280.9" cy="152.5" r="2.85"/>
<circle cx="283.11" cy="152.5" r="2.85"/>
<circle cx="285.32" cy="152.5" r="2.85"/>
<circle cx="287.53" cy="152.5" r="2.85"/>
<circle cx="289.74" cy="152.5" r="2.85"/>
<circle cx="291.95" cy="152.5" r="2.85"/>
<circle cx="294.16" cy="152.5" r="2.85"/>
<circle cx="296.37" cy="152.5" r="2.85"/>
<circle cx="298.58" cy="152.5" r="2.85"/>
<circle cx="300.79" cy="152.5" r="2.85"/>
<circle cx="303.0" cy="152.5" r="2.85"/>
<circle cx="302.9" cy="153.1" r="2.85"/>
<circle cx="310.4" cy="153.1" r="2.85"/>
<circle cx="278" cy="156.6" r="2.85"/>
<circle cx="282.3" cy="156.1" r="2.85"/>
<circle cx="286.3" cy="153.5" r="2.85"/>
<circle cx="293.3" cy="154.4" r="2.85"/>
<circle cx="297.7" cy="156.1" r="2.85"/>
<circle cx="316.9" cy="159.2" r="2.85"/>
<circle cx="291.5" cy="161" r="2.85"/>
<circle cx="297.7" cy="159.2" r="2.85"/>
<circle cx="301.2" cy="160.5" r="2.85"/>
<circle cx="282.8" cy="161.8" r="2.85"/>
<circle cx="284.5" cy="166.6" r="2.85"/>
<circle cx="303.8" cy="162.7" r="2.85"/>
<circle cx="308.2" cy="164.5" r="2.85"/>
<circle cx="309.9" cy="166.2" r="2.85"/>
<circle cx="320" cy="164" r="2.85"/>
<circle cx="316.5" cy="167.1" r="2.85"/>
<circle cx="279.3" cy="166.6" r="2.85"/>
<circle cx="295" cy="168.8" r="2.85"/>
<circle cx="299.8" cy="166.6" r="2.85"/>
<circle cx="301.2" cy="169.7" r="2.85"/>
<circle cx="278.4" cy="172.8" r="2.85"/>
<circle cx="291.1" cy="172.8" r="2.85"/>
<circle cx="299.4" cy="172.8" r="2.85"/>
<circle cx="304.7" cy="172.8" r="2.85"/>
<circle cx="309.9" cy="172.8" r="2.85"/>
<circle cx="279.3" cy="168.4" r="2.85"/>
<circle cx="284.5" cy="168.4" r="2.85"/>
<circle cx="295.9" cy="168.9" r="2.85"/>
<circle cx="316.9" cy="168.4" r="2.85"/>
<circle cx="278" cy="173.3" r="2.85"/>
<circle cx="291.1" cy="173.3" r="2.85"/>
<circle cx="299.4" cy="174.1" r="2.85"/>
<circle cx="303.8" cy="172.4" r="2.85"/>
<circle cx="308.2" cy="172.4" r="2.85"/>
<circle cx="310.8" cy="172.8" r="2.85"/>
<circle cx="288" cy="178.1" r="2.85"/>
<circle cx="292.4" cy="178.5" r="2.85"/>
<circle cx="296.8" cy="179.4" r="2.85"/>
<circle cx="301.2" cy="180.7" r="2.85"/>
<circle cx="276.2" cy="185.1" r="2.85"/>
<circle cx="279.3" cy="185.1" r="2.85"/>
<circle cx="282.3" cy="185.1" r="2.85"/>
<circle cx="288.9" cy="185.5" r="2.85"/>
<circle cx="295.5" cy="184.2" r="2.85"/>
<circle cx="295.5" cy="188.1" r="2.85"/>
<circle cx="300.7" cy="188.1" r="2.85"/>
<circle cx="280.6" cy="190.8" r="2.85"/>
<circle cx="295.5" cy="191.6" r="2.85"/>
<circle cx="296.3" cy="195.2" r="2.85"/>
<circle cx="302" cy="196" r="2.85"/>
<circle cx="282.8" cy="197.9" r="2.85"/>
<circle cx="286.7" cy="197.9" r="2.85"/>
<circle cx="290.2" cy="197.9" r="2.85"/>
<circle cx="295" cy="195.3" r="2.85"/>
<circle cx="301.6" cy="196.2" r="2.85"/>
<circle cx="283.6" cy="201" r="2.85"/>
<circle cx="288.9" cy="201" r="2.85"/>
<circle cx="281.5" cy="204.1" r="2.85"/>
<circle cx="289.3" cy="202.8" r="2.85"/>
<circle cx="274.9" cy="210.2" r="2.85"/>
<circle cx="280.6" cy="209.6" r="2.85"/>
<circle cx="308.9" cy="204.1" r="2.85"/>
<circle cx="313.4" cy="209.3" r="2.85"/>
<circle cx="301.2" cy="216.6" r="2.85"/>
<circle cx="278.4" cy="219" r="2.85"/>
<circle cx="306.9" cy="219" r="2.85"/>
<circle cx="329.6" cy="158.8" r="2.85"/>
<circle cx="357.5" cy="156.8" r="2.85"/>
<circle cx="378.8" cy="158.8" r="2.85"/>
<circle cx="334.5" cy="169.5" r="2.85"/>
<circle cx="330.1" cy="171.6" r="2.85"/>
<circle cx="347.9" cy="180.7" r="2.85"/>
<circle cx="439" cy="178.3" r="2.85"/>
<circle cx="275.2" cy="222.5" r="2.85"/>
<circle cx="277.5" cy="222.5" r="2.85"/>
<circle cx="279.8" cy="222.5" r="2.85"/>
<circle cx="282.1" cy="222.5" r="2.85"/>
<circle cx="284.4" cy="222.5" r="2.85"/>
<circle cx="286.7" cy="222.5" r="2.85"/>
<circle cx="289.0" cy="222.5" r="2.85"/>
<circle cx="291.3" cy="222.5" r="2.85"/>
<circle cx="298.7" cy="222.5" r="2.85"/>
<circle cx="300.82" cy="222.5" r="2.85"/>
<circle cx="302.95" cy="222.5" r="2.85"/>
<circle cx="305.07" cy="222.5" r="2.85"/>
<circle cx="307.2" cy="222.5" r="2.85"/>
<circle cx="318.0" cy="222.5" r="2.85"/>
<circle cx="320.0" cy="222.5" r="2.85"/>
<circle cx="322.0" cy="222.5" r="2.85"/>
</g>
<rect x="266.8" y="145.15" width="180.40" height="81.20" fill="none" stroke="#727272" stroke-width="1.05"/>
<line x1="263.50" y1="222.66" x2="266.80" y2="222.66" stroke="#727272" stroke-width="1.1"/>
<text x="260.30" y="226.66" font-size="11" fill="#4d4d4d" text-anchor="end">0.00</text>
<line x1="263.50" y1="204.20" x2="266.80" y2="204.20" stroke="#727272" stroke-width="1.1"/>
<text x="260.30" y="208.20" font-size="11" fill="#4d4d4d" text-anchor="end">0.25</text>
<line x1="263.50" y1="185.75" x2="266.80" y2="185.75" stroke="#727272" stroke-width="1.1"/>
<text x="260.30" y="189.75" font-size="11" fill="#4d4d4d" text-anchor="end">0.50</text>
<line x1="263.50" y1="167.30" x2="266.80" y2="167.30" stroke="#727272" stroke-width="1.1"/>
<text x="260.30" y="171.30" font-size="11" fill="#4d4d4d" text-anchor="end">0.75</text>
<line x1="263.50" y1="148.84" x2="266.80" y2="148.84" stroke="#727272" stroke-width="1.1"/>
<text x="260.30" y="152.84" font-size="11" fill="#4d4d4d" text-anchor="end">1.00</text>
<line x1="273.60" y1="226.35" x2="273.60" y2="229.65" stroke="#727272" stroke-width="1.1"/>
<text x="273.60" y="240.65" font-size="11" fill="#4d4d4d" text-anchor="middle">0.0</text>
<line x1="315.00" y1="226.35" x2="315.00" y2="229.65" stroke="#727272" stroke-width="1.1"/>
<text x="315.00" y="240.65" font-size="11" fill="#4d4d4d" text-anchor="middle">0.1</text>
<line x1="356.40" y1="226.35" x2="356.40" y2="229.65" stroke="#727272" stroke-width="1.1"/>
<text x="356.40" y="240.65" font-size="11" fill="#4d4d4d" text-anchor="middle">0.2</text>
<line x1="397.80" y1="226.35" x2="397.80" y2="229.65" stroke="#727272" stroke-width="1.1"/>
<text x="397.80" y="240.65" font-size="11" fill="#4d4d4d" text-anchor="middle">0.3</text>
<line x1="439.20" y1="226.35" x2="439.20" y2="229.65" stroke="#727272" stroke-width="1.1"/>
<text x="439.20" y="240.65" font-size="11" fill="#4d4d4d" text-anchor="middle">0.4</text>
<polygon points="489.00,159.16 490.85,160.04 492.70,160.98 494.55,161.98 496.40,163.04 498.25,164.15 500.10,165.33 501.95,166.55 503.80,167.83 505.64,169.16 507.49,170.53 509.34,171.93 511.19,173.36 513.04,174.81 514.89,176.27 516.74,177.71 518.59,179.15 520.44,180.55 522.29,181.91 524.14,183.22 525.99,184.48 527.84,185.68 529.69,186.82 531.54,187.91 533.39,188.95 535.24,189.94 537.09,190.90 538.93,191.81 540.78,192.70 542.63,193.56 544.48,194.39 546.33,195.20 548.18,195.98 550.03,196.75 551.88,197.50 553.73,198.23 555.58,198.95 557.43,199.64 559.28,200.33 561.13,200.99 562.98,201.65 564.83,202.28 566.68,202.91 568.53,203.52 570.38,204.11 572.22,204.69 574.07,205.26 575.92,205.81 577.77,206.35 579.62,206.87 581.47,207.39 583.32,207.89 585.17,208.37 587.02,208.84 588.87,209.31 590.72,209.75 592.57,210.19 594.42,210.61 596.27,211.02 598.12,211.42 599.97,211.81 601.82,212.19 603.67,212.55 605.51,212.91 607.36,213.25 609.21,213.58 611.06,213.91 612.91,214.22 614.76,214.52 616.61,214.81 618.46,215.10 620.31,215.37 622.16,215.64 624.01,215.89 625.86,216.14 627.71,216.38 629.56,216.61 631.41,216.84 633.26,217.05 635.11,217.26 636.96,217.46 638.80,217.66 640.65,217.84 642.50,218.03 644.35,218.20 646.20,218.37 648.05,218.53 649.90,218.69 651.75,218.84 653.60,218.98 653.60,222.59 651.75,222.59 649.90,222.58 648.05,222.57 646.20,222.56 644.35,222.55 642.50,222.54 640.65,222.53 638.80,222.52 636.96,222.50 635.11,222.49 633.26,222.47 631.41,222.45 629.56,222.43 627.71,222.40 625.86,222.38 624.01,222.35 622.16,222.31 620.31,222.28 618.46,222.24 616.61,222.20 614.76,222.15 612.91,222.10 611.06,222.04 609.21,221.98 607.36,221.91 605.51,221.83 603.67,221.75 601.82,221.65 599.97,221.55 598.12,221.44 596.27,221.31 594.42,221.18 592.57,221.03 590.72,220.87 588.87,220.69 587.02,220.49 585.17,220.28 583.32,220.04 581.47,219.78 579.62,219.50 577.77,219.19 575.92,218.86 574.07,218.49 572.22,218.09 570.38,217.66 568.53,217.18 566.68,216.67 564.83,216.12 562.98,215.52 561.13,214.87 559.28,214.18 557.43,213.43 555.58,212.63 553.73,211.78 551.88,210.87 550.03,209.90 548.18,208.88 546.33,207.80 544.48,206.67 542.63,205.49 540.78,204.26 538.93,203.00 537.09,201.69 535.24,200.37 533.39,199.02 531.54,197.67 529.69,196.33 527.84,195.01 525.99,193.71 524.14,192.45 522.29,191.24 520.44,190.07 518.59,188.95 516.74,187.88 514.89,186.84 513.04,185.85 511.19,184.88 509.34,183.95 507.49,183.05 505.64,182.16 503.80,181.30 501.95,180.46 500.10,179.63 498.25,178.83 496.40,178.03 494.55,177.25 492.70,176.49 490.85,175.74 489.00,175.00" fill="#c8c8c8"/>
<polyline points="489.00,165.82 490.85,166.75 492.70,167.71 494.55,168.70 496.40,169.73 498.25,170.79 500.10,171.88 501.95,172.99 503.80,174.14 505.64,175.31 507.49,176.50 509.34,177.72 511.19,178.95 513.04,180.20 514.89,181.47 516.74,182.74 518.59,184.02 520.44,185.30 522.29,186.59 524.14,187.87 525.99,189.15 527.84,190.42 529.69,191.68 531.54,192.92 533.39,194.15 535.24,195.36 537.09,196.55 538.93,197.71 540.78,198.85 542.63,199.96 544.48,201.04 546.33,202.09 548.18,203.10 550.03,204.09 551.88,205.04 553.73,205.96 555.58,206.84 557.43,207.69 559.28,208.50 561.13,209.28 562.98,210.03 564.83,210.74 566.68,211.42 568.53,212.07 570.38,212.69 572.22,213.27 574.07,213.83 575.92,214.35 577.77,214.85 579.62,215.33 581.47,215.77 583.32,216.20 585.17,216.60 587.02,216.97 588.87,217.33 590.72,217.66 592.57,217.98 594.42,218.27 596.27,218.55 598.12,218.81 599.97,219.06 601.82,219.29 603.67,219.51 605.51,219.71 607.36,219.90 609.21,220.08 611.06,220.25 612.91,220.41 614.76,220.55 616.61,220.69 618.46,220.82 620.31,220.94 622.16,221.05 624.01,221.16 625.86,221.26 627.71,221.35 629.56,221.44 631.41,221.52 633.26,221.59 635.11,221.67 636.96,221.73 638.80,221.79 640.65,221.85 642.50,221.90 644.35,221.95 646.20,222.00 648.05,222.05 649.90,222.09 651.75,222.12 653.60,222.16" fill="none" stroke="#3366ff" stroke-width="2.2" stroke-linejoin="round"/>
<g fill="#000">
<circle cx="495.8" cy="148.7" r="2.85"/>
<circle cx="497.93" cy="148.7" r="2.85"/>
<circle cx="500.07" cy="148.7" r="2.85"/>
<circle cx="502.2" cy="148.7" r="2.85"/>
<circle cx="504.33" cy="148.7" r="2.85"/>
<circle cx="506.47" cy="148.7" r="2.85"/>
<circle cx="508.6" cy="148.7" r="2.85"/>
<circle cx="510.73" cy="148.7" r="2.85"/>
<circle cx="512.87" cy="148.7" r="2.85"/>
<circle cx="515.0" cy="148.7" r="2.85"/>
<circle cx="517.13" cy="148.7" r="2.85"/>
<circle cx="519.27" cy="148.7" r="2.85"/>
<circle cx="521.4" cy="148.7" r="2.85"/>
<circle cx="536.0" cy="148.7" r="2.85"/>
<circle cx="538.2" cy="148.7" r="2.85"/>
<circle cx="540.4" cy="148.7" r="2.85"/>
<circle cx="542.6" cy="148.7" r="2.85"/>
<circle cx="549.8" cy="148.7" r="2.85"/>
<circle cx="489.3" cy="150.9" r="2.85"/>
<circle cx="495.9" cy="152.6" r="2.85"/>
<circle cx="499" cy="152" r="2.85"/>
<circle cx="503.8" cy="151.3" r="2.85"/>
<circle cx="509.9" cy="151.8" r="2.85"/>
<circle cx="496.8" cy="154.4" r="2.85"/>
<circle cx="511.7" cy="154.4" r="2.85"/>
<circle cx="512.5" cy="157" r="2.85"/>
<circle cx="525.2" cy="154" r="2.85"/>
<circle cx="520.4" cy="156.8" r="2.85"/>
<circle cx="538.8" cy="156.6" r="2.85"/>
<circle cx="543.9" cy="152.2" r="2.85"/>
<circle cx="539.3" cy="156.8" r="2.85"/>
<circle cx="547.8" cy="156.8" r="2.85"/>
<circle cx="489.8" cy="158.8" r="2.85"/>
<circle cx="499.4" cy="160.5" r="2.85"/>
<circle cx="503" cy="159" r="2.85"/>
<circle cx="506.4" cy="157.9" r="2.85"/>
<circle cx="512.5" cy="160.5" r="2.85"/>
<circle cx="514.3" cy="164.5" r="2.85"/>
<circle cx="526.5" cy="160.5" r="2.85"/>
<circle cx="524.8" cy="161.8" r="2.85"/>
<circle cx="489.3" cy="165.3" r="2.85"/>
<circle cx="497.2" cy="164" r="2.85"/>
<circle cx="498.1" cy="166.6" r="2.85"/>
<circle cx="522.2" cy="166.2" r="2.85"/>
<circle cx="528.3" cy="166.6" r="2.85"/>
<circle cx="531.8" cy="169.3" r="2.85"/>
<circle cx="534.4" cy="172.3" r="2.85"/>
<circle cx="496.8" cy="170.2" r="2.85"/>
<circle cx="492.8" cy="172.8" r="2.85"/>
<circle cx="511.7" cy="171" r="2.85"/>
<circle cx="516.9" cy="171.5" r="2.85"/>
<circle cx="493.3" cy="172.8" r="2.85"/>
<circle cx="497.2" cy="171.5" r="2.85"/>
<circle cx="496.3" cy="168.9" r="2.85"/>
<circle cx="509.9" cy="173.3" r="2.85"/>
<circle cx="512.5" cy="171.5" r="2.85"/>
<circle cx="521.7" cy="168.4" r="2.85"/>
<circle cx="528.3" cy="168.4" r="2.85"/>
<circle cx="546.8" cy="167.3" r="2.85"/>
<circle cx="501.1" cy="180.7" r="2.85"/>
<circle cx="513" cy="178.7" r="2.85"/>
<circle cx="520" cy="179" r="2.85"/>
<circle cx="531.4" cy="178.5" r="2.85"/>
<circle cx="529.2" cy="182" r="2.85"/>
<circle cx="527.4" cy="185.1" r="2.85"/>
<circle cx="511.7" cy="185.5" r="2.85"/>
<circle cx="518.8" cy="185.5" r="2.85"/>
<circle cx="536.4" cy="185.1" r="2.85"/>
<circle cx="490.6" cy="188.1" r="2.85"/>
<circle cx="493.7" cy="190.8" r="2.85"/>
<circle cx="539.2" cy="190.8" r="2.85"/>
<circle cx="509.5" cy="193" r="2.85"/>
<circle cx="514.7" cy="195.6" r="2.85"/>
<circle cx="519.1" cy="196" r="2.85"/>
<circle cx="505.1" cy="197.8" r="2.85"/>
<circle cx="530.5" cy="197.8" r="2.85"/>
<circle cx="536.7" cy="185.7" r="2.85"/>
<circle cx="543.2" cy="185.7" r="2.85"/>
<circle cx="547.6" cy="185.7" r="2.85"/>
<circle cx="559.9" cy="185.7" r="2.85"/>
<circle cx="593.8" cy="185.7" r="2.85"/>
<circle cx="539.3" cy="191.2" r="2.85"/>
<circle cx="537.3" cy="201" r="2.85"/>
<circle cx="545.2" cy="202.3" r="2.85"/>
<circle cx="553.1" cy="209.6" r="2.85"/>
<circle cx="555.7" cy="210.5" r="2.85"/>
<circle cx="504.8" cy="197.9" r="2.85"/>
<circle cx="516.9" cy="201.4" r="2.85"/>
<circle cx="518.2" cy="204.1" r="2.85"/>
<circle cx="520.9" cy="209.6" r="2.85"/>
<circle cx="537.1" cy="201" r="2.85"/>
<circle cx="529.6" cy="204.1" r="2.85"/>
<circle cx="507.7" cy="216.6" r="2.85"/>
<circle cx="518.7" cy="219" r="2.85"/>
<circle cx="526.1" cy="219" r="2.85"/>
<circle cx="496.8" cy="222.5" r="2.85"/>
<circle cx="506.7" cy="222.5" r="2.85"/>
<circle cx="508.93" cy="222.5" r="2.85"/>
<circle cx="511.16" cy="222.5" r="2.85"/>
<circle cx="513.39" cy="222.5" r="2.85"/>
<circle cx="515.63" cy="222.5" r="2.85"/>
<circle cx="517.86" cy="222.5" r="2.85"/>
<circle cx="520.09" cy="222.5" r="2.85"/>
<circle cx="522.32" cy="222.5" r="2.85"/>
<circle cx="524.55" cy="222.5" r="2.85"/>
<circle cx="526.78" cy="222.5" r="2.85"/>
<circle cx="529.02" cy="222.5" r="2.85"/>
<circle cx="531.25" cy="222.5" r="2.85"/>
<circle cx="533.48" cy="222.5" r="2.85"/>
<circle cx="535.71" cy="222.5" r="2.85"/>
<circle cx="537.94" cy="222.5" r="2.85"/>
<circle cx="540.17" cy="222.5" r="2.85"/>
<circle cx="542.41" cy="222.5" r="2.85"/>
<circle cx="544.64" cy="222.5" r="2.85"/>
<circle cx="546.87" cy="222.5" r="2.85"/>
<circle cx="549.1" cy="222.5" r="2.85"/>
<circle cx="553.1" cy="222.5" r="2.85"/>
<circle cx="561.5" cy="222.5" r="2.85"/>
<circle cx="564.4" cy="222.5" r="2.85"/>
<circle cx="571.7" cy="222.5" r="2.85"/>
<circle cx="580.7" cy="222.5" r="2.85"/>
<circle cx="586.2" cy="222.5" r="2.85"/>
<circle cx="593.7" cy="222.5" r="2.85"/>
<circle cx="596.5" cy="222.5" r="2.85"/>
<circle cx="603.5" cy="222.5" r="2.85"/>
<circle cx="629.9" cy="222.5" r="2.85"/>
<circle cx="653.5" cy="222.5" r="2.85"/>
</g>
<rect x="481.2" y="145.15" width="180.30" height="81.20" fill="none" stroke="#727272" stroke-width="1.05"/>
<line x1="477.90" y1="222.66" x2="481.20" y2="222.66" stroke="#727272" stroke-width="1.1"/>
<text x="474.70" y="226.66" font-size="11" fill="#4d4d4d" text-anchor="end">0.00</text>
<line x1="477.90" y1="204.20" x2="481.20" y2="204.20" stroke="#727272" stroke-width="1.1"/>
<text x="474.70" y="208.20" font-size="11" fill="#4d4d4d" text-anchor="end">0.25</text>
<line x1="477.90" y1="185.75" x2="481.20" y2="185.75" stroke="#727272" stroke-width="1.1"/>
<text x="474.70" y="189.75" font-size="11" fill="#4d4d4d" text-anchor="end">0.50</text>
<line x1="477.90" y1="167.30" x2="481.20" y2="167.30" stroke="#727272" stroke-width="1.1"/>
<text x="474.70" y="171.30" font-size="11" fill="#4d4d4d" text-anchor="end">0.75</text>
<line x1="477.90" y1="148.84" x2="481.20" y2="148.84" stroke="#727272" stroke-width="1.1"/>
<text x="474.70" y="152.84" font-size="11" fill="#4d4d4d" text-anchor="end">1.00</text>
<line x1="524.40" y1="226.35" x2="524.40" y2="229.65" stroke="#727272" stroke-width="1.1"/>
<text x="524.40" y="240.65" font-size="11" fill="#4d4d4d" text-anchor="middle">4</text>
<line x1="582.50" y1="226.35" x2="582.50" y2="229.65" stroke="#727272" stroke-width="1.1"/>
<text x="582.50" y="240.65" font-size="11" fill="#4d4d4d" text-anchor="middle">5</text>
<line x1="640.60" y1="226.35" x2="640.60" y2="229.65" stroke="#727272" stroke-width="1.1"/>
<text x="640.60" y="240.65" font-size="11" fill="#4d4d4d" text-anchor="middle">6</text>
<polygon points="60.50,311.96 62.35,312.05 64.19,312.13 66.04,312.21 67.88,312.29 69.73,312.36 71.58,312.42 73.42,312.47 75.27,312.51 77.11,312.55 78.96,312.57 80.81,312.58 82.65,312.58 84.50,312.56 86.34,312.52 88.19,312.47 90.04,312.39 91.88,312.30 93.73,312.19 95.58,312.06 97.42,311.90 99.27,311.73 101.11,311.54 102.96,311.33 104.81,311.11 106.65,310.87 108.50,310.62 110.34,310.35 112.19,310.06 114.04,309.77 115.88,309.46 117.73,309.14 119.57,308.81 121.42,308.47 123.27,308.12 125.11,307.75 126.96,307.38 128.80,307.00 130.65,306.61 132.50,306.21 134.34,305.80 136.19,305.38 138.03,304.95 139.88,304.51 141.73,304.07 143.57,303.61 145.42,303.15 147.27,302.68 149.11,302.20 150.96,301.72 152.80,301.23 154.65,300.73 156.50,300.22 158.34,299.70 160.19,299.18 162.03,298.65 163.88,298.12 165.73,297.58 167.57,297.03 169.42,296.48 171.26,295.92 173.11,295.36 174.96,294.79 176.80,294.22 178.65,293.65 180.49,293.06 182.34,292.48 184.19,291.89 186.03,291.30 187.88,290.71 189.72,290.11 191.57,289.51 193.42,288.91 195.26,288.31 197.11,287.71 198.96,287.10 200.80,286.50 202.65,285.89 204.49,285.29 206.34,284.68 208.19,284.08 210.03,283.48 211.88,282.88 213.72,282.28 215.57,281.68 217.42,281.09 219.26,280.49 221.11,279.91 222.95,279.32 224.80,278.74 224.80,320.05 222.95,320.00 221.11,319.96 219.26,319.91 217.42,319.86 215.57,319.82 213.72,319.77 211.88,319.72 210.03,319.67 208.19,319.63 206.34,319.58 204.49,319.53 202.65,319.48 200.80,319.42 198.96,319.37 197.11,319.32 195.26,319.27 193.42,319.22 191.57,319.16 189.72,319.11 187.88,319.05 186.03,319.00 184.19,318.94 182.34,318.88 180.49,318.83 178.65,318.77 176.80,318.71 174.96,318.65 173.11,318.59 171.26,318.53 169.42,318.47 167.57,318.41 165.73,318.35 163.88,318.29 162.03,318.23 160.19,318.17 158.34,318.10 156.50,318.04 154.65,317.98 152.80,317.91 150.96,317.85 149.11,317.78 147.27,317.72 145.42,317.65 143.57,317.59 141.73,317.52 139.88,317.46 138.03,317.39 136.19,317.33 134.34,317.26 132.50,317.20 130.65,317.13 128.80,317.07 126.96,317.01 125.11,316.95 123.27,316.89 121.42,316.83 119.57,316.77 117.73,316.72 115.88,316.67 114.04,316.62 112.19,316.57 110.34,316.53 108.50,316.50 106.65,316.47 104.81,316.44 102.96,316.43 101.11,316.42 99.27,316.42 97.42,316.44 95.58,316.46 93.73,316.50 91.88,316.55 90.04,316.61 88.19,316.68 86.34,316.77 84.50,316.86 82.65,316.97 80.81,317.08 78.96,317.20 77.11,317.32 75.27,317.45 73.42,317.59 71.58,317.72 69.73,317.86 67.88,318.00 66.04,318.13 64.19,318.27 62.35,318.41 60.50,318.54" fill="#c8c8c8"/>
<polyline points="60.50,315.86 62.35,315.79 64.19,315.72 66.04,315.65 67.88,315.58 69.73,315.51 71.58,315.44 73.42,315.37 75.27,315.30 77.11,315.23 78.96,315.16 80.81,315.09 82.65,315.01 84.50,314.94 86.34,314.87 88.19,314.79 90.04,314.72 91.88,314.64 93.73,314.56 95.58,314.49 97.42,314.41 99.27,314.33 101.11,314.25 102.96,314.17 104.81,314.09 106.65,314.01 108.50,313.93 110.34,313.85 112.19,313.77 114.04,313.69 115.88,313.60 117.73,313.52 119.57,313.44 121.42,313.35 123.27,313.26 125.11,313.18 126.96,313.09 128.80,313.00 130.65,312.92 132.50,312.83 134.34,312.74 136.19,312.65 138.03,312.56 139.88,312.47 141.73,312.37 143.57,312.28 145.42,312.19 147.27,312.09 149.11,312.00 150.96,311.91 152.80,311.81 154.65,311.71 156.50,311.62 158.34,311.52 160.19,311.42 162.03,311.32 163.88,311.22 165.73,311.12 167.57,311.02 169.42,310.92 171.26,310.82 173.11,310.71 174.96,310.61 176.80,310.51 178.65,310.40 180.49,310.30 182.34,310.19 184.19,310.08 186.03,309.98 187.88,309.87 189.72,309.76 191.57,309.65 193.42,309.54 195.26,309.43 197.11,309.32 198.96,309.21 200.80,309.09 202.65,308.98 204.49,308.87 206.34,308.75 208.19,308.64 210.03,308.52 211.88,308.40 213.72,308.29 215.57,308.17 217.42,308.05 219.26,307.93 221.11,307.81 222.95,307.69 224.80,307.57" fill="none" stroke="#3366ff" stroke-width="2.2" stroke-linejoin="round"/>
<g fill="#000">
<circle cx="60.5" cy="249.75" r="2.85"/>
<circle cx="73.9" cy="249.75" r="2.85"/>
<circle cx="80.6" cy="249.75" r="2.85"/>
<circle cx="157.5" cy="249.75" r="2.85"/>
<circle cx="60.5" cy="262.6" r="2.85"/>
<circle cx="60.5" cy="271.0" r="2.85"/>
<circle cx="60.5" cy="274.0" r="2.85"/>
<circle cx="60.5" cy="287.2" r="2.85"/>
<circle cx="60.5" cy="289.79" r="2.85"/>
<circle cx="60.5" cy="292.38" r="2.85"/>
<circle cx="60.5" cy="294.97" r="2.85"/>
<circle cx="60.5" cy="297.56" r="2.85"/>
<circle cx="60.5" cy="300.14" r="2.85"/>
<circle cx="60.5" cy="302.73" r="2.85"/>
<circle cx="60.5" cy="305.32" r="2.85"/>
<circle cx="60.5" cy="307.91" r="2.85"/>
<circle cx="60.5" cy="310.5" r="2.85"/>
<circle cx="64.3" cy="302" r="2.85"/>
<circle cx="73.9" cy="310.9" r="2.85"/>
<circle cx="90.5" cy="304.8" r="2.85"/>
<circle cx="107.4" cy="306.7" r="2.85"/>
<circle cx="107.4" cy="293.8" r="2.85"/>
<circle cx="84" cy="314.8" r="2.85"/>
<circle cx="80.5" cy="317.5" r="2.85"/>
<circle cx="60.5" cy="317.9" r="2.85"/>
<circle cx="90.5" cy="317.5" r="2.85"/>
<circle cx="93.2" cy="317" r="2.85"/>
<circle cx="97.5" cy="317" r="2.85"/>
<circle cx="99.7" cy="317.5" r="2.85"/>
<circle cx="107.2" cy="317.5" r="2.85"/>
<circle cx="109.4" cy="317.9" r="2.85"/>
<circle cx="124.1" cy="256.5" r="2.85"/>
<circle cx="124.1" cy="262.8" r="2.85"/>
<circle cx="174.3" cy="284" r="2.85"/>
<circle cx="174.3" cy="289.6" r="2.85"/>
<circle cx="140.8" cy="291.2" r="2.85"/>
<circle cx="140.8" cy="293.8" r="2.85"/>
<circle cx="147.8" cy="305" r="2.85"/>
<circle cx="140.8" cy="308.3" r="2.85"/>
<circle cx="140.8" cy="311.6" r="2.85"/>
<circle cx="140.8" cy="318.1" r="2.85"/>
<circle cx="174.3" cy="317.2" r="2.85"/>
<circle cx="191.1" cy="319.4" r="2.85"/>
<circle cx="224.5" cy="314.5" r="2.85"/>
<circle cx="61.1" cy="323.4" r="2.85"/>
<circle cx="63.35" cy="323.4" r="2.85"/>
<circle cx="65.6" cy="323.4" r="2.85"/>
<circle cx="67.85" cy="323.4" r="2.85"/>
<circle cx="70.1" cy="323.4" r="2.85"/>
<circle cx="78.1" cy="323.4" r="2.85"/>
<circle cx="80.45" cy="323.4" r="2.85"/>
<circle cx="82.8" cy="323.4" r="2.85"/>
<circle cx="90.5" cy="323.4" r="2.85"/>
<circle cx="98.3" cy="323.4" r="2.85"/>
<circle cx="100.3" cy="323.4" r="2.85"/>
<circle cx="107.9" cy="323.4" r="2.85"/>
<circle cx="111" cy="323.4" r="2.85"/>
<circle cx="114.5" cy="323.4" r="2.85"/>
<circle cx="124.1" cy="323.4" r="2.85"/>
<circle cx="140.8" cy="323.4" r="2.85"/>
<circle cx="191.1" cy="323.4" r="2.85"/>
<circle cx="207.8" cy="323.4" r="2.85"/>
</g>
<rect x="52.5" y="246.0" width="180.40" height="81.20" fill="none" stroke="#727272" stroke-width="1.05"/>
<line x1="49.20" y1="323.51" x2="52.50" y2="323.51" stroke="#727272" stroke-width="1.1"/>
<text x="46.00" y="327.51" font-size="11" fill="#4d4d4d" text-anchor="end">0.00</text>
<line x1="49.20" y1="305.05" x2="52.50" y2="305.05" stroke="#727272" stroke-width="1.1"/>
<text x="46.00" y="309.05" font-size="11" fill="#4d4d4d" text-anchor="end">0.25</text>
<line x1="49.20" y1="286.60" x2="52.50" y2="286.60" stroke="#727272" stroke-width="1.1"/>
<text x="46.00" y="290.60" font-size="11" fill="#4d4d4d" text-anchor="end">0.50</text>
<line x1="49.20" y1="268.15" x2="52.50" y2="268.15" stroke="#727272" stroke-width="1.1"/>
<text x="46.00" y="272.15" font-size="11" fill="#4d4d4d" text-anchor="end">0.75</text>
<line x1="49.20" y1="249.69" x2="52.50" y2="249.69" stroke="#727272" stroke-width="1.1"/>
<text x="46.00" y="253.69" font-size="11" fill="#4d4d4d" text-anchor="end">1.00</text>
<line x1="57.30" y1="327.20" x2="57.30" y2="330.50" stroke="#727272" stroke-width="1.1"/>
<text x="57.30" y="341.50" font-size="11" fill="#4d4d4d" text-anchor="middle">0</text>
<line x1="90.80" y1="327.20" x2="90.80" y2="330.50" stroke="#727272" stroke-width="1.1"/>
<text x="90.80" y="341.50" font-size="11" fill="#4d4d4d" text-anchor="middle">10</text>
<line x1="124.30" y1="327.20" x2="124.30" y2="330.50" stroke="#727272" stroke-width="1.1"/>
<text x="124.30" y="341.50" font-size="11" fill="#4d4d4d" text-anchor="middle">20</text>
<line x1="157.80" y1="327.20" x2="157.80" y2="330.50" stroke="#727272" stroke-width="1.1"/>
<text x="157.80" y="341.50" font-size="11" fill="#4d4d4d" text-anchor="middle">30</text>
<line x1="191.30" y1="327.20" x2="191.30" y2="330.50" stroke="#727272" stroke-width="1.1"/>
<text x="191.30" y="341.50" font-size="11" fill="#4d4d4d" text-anchor="middle">40</text>
<line x1="224.80" y1="327.20" x2="224.80" y2="330.50" stroke="#727272" stroke-width="1.1"/>
<text x="224.80" y="341.50" font-size="11" fill="#4d4d4d" text-anchor="middle">50</text>
<polygon points="274.90,311.38 276.74,311.57 278.59,311.76 280.43,311.93 282.28,312.08 284.12,312.22 285.97,312.34 287.81,312.43 289.66,312.50 291.50,312.52 293.35,312.51 295.19,312.45 297.04,312.34 298.88,312.18 300.73,311.97 302.57,311.70 304.42,311.40 306.26,311.04 308.11,310.65 309.95,310.23 311.80,309.77 313.64,309.29 315.49,308.78 317.33,308.24 319.18,307.68 321.02,307.09 322.87,306.48 324.71,305.85 326.56,305.19 328.40,304.52 330.25,303.82 332.09,303.11 333.94,302.38 335.78,301.63 337.63,300.86 339.47,300.07 341.32,299.26 343.16,298.44 345.01,297.61 346.85,296.76 348.70,295.90 350.54,295.02 352.39,294.14 354.23,293.24 356.08,292.34 357.92,291.42 359.77,290.50 361.61,289.58 363.46,288.65 365.30,287.71 367.15,286.78 368.99,285.84 370.84,284.90 372.68,283.97 374.53,283.03 376.37,282.11 378.22,281.18 380.06,280.27 381.91,279.36 383.75,278.46 385.60,277.57 387.44,276.69 389.29,275.82 391.13,274.97 392.98,274.13 394.82,273.30 396.67,272.49 398.51,271.69 400.36,270.91 402.20,270.14 404.05,269.40 405.89,268.67 407.74,267.96 409.58,267.26 411.43,266.59 413.27,265.93 415.12,265.29 416.96,264.67 418.81,264.07 420.65,263.48 422.50,262.92 424.34,262.37 426.19,261.84 428.03,261.33 429.88,260.84 431.72,260.36 433.57,259.90 435.41,259.46 437.26,259.04 439.10,258.62 439.10,322.13 437.26,322.09 435.41,322.06 433.57,322.02 431.72,321.98 429.88,321.95 428.03,321.91 426.19,321.87 424.34,321.83 422.50,321.79 420.65,321.74 418.81,321.70 416.96,321.66 415.12,321.61 413.27,321.56 411.43,321.52 409.58,321.47 407.74,321.42 405.89,321.36 404.05,321.31 402.20,321.26 400.36,321.20 398.51,321.15 396.67,321.09 394.82,321.03 392.98,320.97 391.13,320.91 389.29,320.84 387.44,320.78 385.60,320.71 383.75,320.65 381.91,320.58 380.06,320.51 378.22,320.44 376.37,320.36 374.53,320.29 372.68,320.21 370.84,320.13 368.99,320.05 367.15,319.97 365.30,319.88 363.46,319.80 361.61,319.71 359.77,319.62 357.92,319.53 356.08,319.44 354.23,319.34 352.39,319.25 350.54,319.15 348.70,319.05 346.85,318.95 345.01,318.84 343.16,318.74 341.32,318.63 339.47,318.52 337.63,318.41 335.78,318.30 333.94,318.19 332.09,318.07 330.25,317.96 328.40,317.84 326.56,317.72 324.71,317.61 322.87,317.49 321.02,317.37 319.18,317.26 317.33,317.14 315.49,317.03 313.64,316.92 311.80,316.82 309.95,316.73 308.11,316.65 306.26,316.58 304.42,316.53 302.57,316.50 300.73,316.50 298.88,316.52 297.04,316.58 295.19,316.67 293.35,316.79 291.50,316.94 289.66,317.12 287.81,317.31 285.97,317.51 284.12,317.72 282.28,317.93 280.43,318.14 278.59,318.36 276.74,318.57 274.90,318.77" fill="#c8c8c8"/>
<polyline points="274.90,315.83 276.74,315.74 278.59,315.65 280.43,315.55 282.28,315.46 284.12,315.37 285.97,315.27 287.81,315.17 289.66,315.08 291.50,314.98 293.35,314.88 295.19,314.78 297.04,314.68 298.88,314.58 300.73,314.47 302.57,314.37 304.42,314.26 306.26,314.16 308.11,314.05 309.95,313.94 311.80,313.83 313.64,313.72 315.49,313.61 317.33,313.50 319.18,313.38 321.02,313.27 322.87,313.15 324.71,313.04 326.56,312.92 328.40,312.80 330.25,312.68 332.09,312.56 333.94,312.43 335.78,312.31 337.63,312.18 339.47,312.06 341.32,311.93 343.16,311.80 345.01,311.67 346.85,311.54 348.70,311.41 350.54,311.28 352.39,311.14 354.23,311.01 356.08,310.87 357.92,310.74 359.77,310.60 361.61,310.46 363.46,310.32 365.30,310.17 367.15,310.03 368.99,309.88 370.84,309.74 372.68,309.59 374.53,309.44 376.37,309.29 378.22,309.14 380.06,308.99 381.91,308.84 383.75,308.68 385.60,308.53 387.44,308.37 389.29,308.21 391.13,308.05 392.98,307.89 394.82,307.73 396.67,307.57 398.51,307.40 400.36,307.24 402.20,307.07 404.05,306.90 405.89,306.73 407.74,306.56 409.58,306.39 411.43,306.22 413.27,306.05 415.12,305.87 416.96,305.70 418.81,305.52 420.65,305.34 422.50,305.16 424.34,304.98 426.19,304.80 428.03,304.61 429.88,304.43 431.72,304.24 433.57,304.06 435.41,303.87 437.26,303.68 439.10,303.49" fill="none" stroke="#3366ff" stroke-width="2.2" stroke-linejoin="round"/>
<g fill="#000">
<circle cx="275.9" cy="249.75" r="2.85"/>
<circle cx="279.5" cy="249.75" r="2.85"/>
<circle cx="282.5" cy="249.75" r="2.85"/>
<circle cx="305.1" cy="249.75" r="2.85"/>
<circle cx="300.9" cy="256.5" r="2.85"/>
<circle cx="280.8" cy="262.7" r="2.85"/>
<circle cx="313.2" cy="262.7" r="2.85"/>
<circle cx="289.1" cy="270.9" r="2.85"/>
<circle cx="308" cy="274.2" r="2.85"/>
<circle cx="276.6" cy="286.4" r="2.85"/>
<circle cx="280.1" cy="286.4" r="2.85"/>
<circle cx="301.2" cy="283.8" r="2.85"/>
<circle cx="295.5" cy="285.9" r="2.85"/>
<circle cx="286.7" cy="289.4" r="2.85"/>
<circle cx="288.5" cy="293.4" r="2.85"/>
<circle cx="293.3" cy="292.9" r="2.85"/>
<circle cx="295.9" cy="290.3" r="2.85"/>
<circle cx="300.7" cy="291.2" r="2.85"/>
<circle cx="278.4" cy="298.2" r="2.85"/>
<circle cx="280.6" cy="297.1" r="2.85"/>
<circle cx="278.6" cy="304.8" r="2.85"/>
<circle cx="282.3" cy="304.8" r="2.85"/>
<circle cx="309.9" cy="299.1" r="2.85"/>
<circle cx="307.3" cy="302.6" r="2.85"/>
<circle cx="307.7" cy="306.1" r="2.85"/>
<circle cx="309.9" cy="305.6" r="2.85"/>
<circle cx="295" cy="307.8" r="2.85"/>
<circle cx="291.1" cy="310.5" r="2.85"/>
<circle cx="297.7" cy="313.1" r="2.85"/>
<circle cx="291.5" cy="311.4" r="2.85"/>
<circle cx="290.2" cy="314.5" r="2.85"/>
<circle cx="298.1" cy="314" r="2.85"/>
<circle cx="317" cy="308.5" r="2.85"/>
<circle cx="317" cy="311.5" r="2.85"/>
<circle cx="322.6" cy="310.8" r="2.85"/>
<circle cx="283.2" cy="317.5" r="2.85"/>
<circle cx="281.5" cy="318.8" r="2.85"/>
<circle cx="302" cy="318.4" r="2.85"/>
<circle cx="309.9" cy="318.4" r="2.85"/>
<circle cx="312.5" cy="320.6" r="2.85"/>
<circle cx="319.6" cy="318.8" r="2.85"/>
<circle cx="286" cy="319" r="2.85"/>
<circle cx="290" cy="319.5" r="2.85"/>
<circle cx="294" cy="318" r="2.85"/>
<circle cx="298" cy="319" r="2.85"/>
<circle cx="305" cy="319.5" r="2.85"/>
<circle cx="334.5" cy="318.1" r="2.85"/>
<circle cx="329.9" cy="321.4" r="2.85"/>
<circle cx="329.2" cy="323.4" r="2.85"/>
<circle cx="347.9" cy="318.1" r="2.85"/>
<circle cx="357.7" cy="317.2" r="2.85"/>
<circle cx="378.8" cy="323.4" r="2.85"/>
<circle cx="438.9" cy="294.1" r="2.85"/>
<circle cx="276.1" cy="323.4" r="2.85"/>
<circle cx="278.32" cy="323.4" r="2.85"/>
<circle cx="280.54" cy="323.4" r="2.85"/>
<circle cx="282.76" cy="323.4" r="2.85"/>
<circle cx="284.98" cy="323.4" r="2.85"/>
<circle cx="287.2" cy="323.4" r="2.85"/>
<circle cx="289.42" cy="323.4" r="2.85"/>
<circle cx="291.64" cy="323.4" r="2.85"/>
<circle cx="293.86" cy="323.4" r="2.85"/>
<circle cx="296.08" cy="323.4" r="2.85"/>
<circle cx="298.3" cy="323.4" r="2.85"/>
<circle cx="300.52" cy="323.4" r="2.85"/>
<circle cx="302.74" cy="323.4" r="2.85"/>
<circle cx="304.96" cy="323.4" r="2.85"/>
<circle cx="307.18" cy="323.4" r="2.85"/>
<circle cx="309.4" cy="323.4" r="2.85"/>
<circle cx="311.62" cy="323.4" r="2.85"/>
<circle cx="313.84" cy="323.4" r="2.85"/>
<circle cx="316.06" cy="323.4" r="2.85"/>
<circle cx="318.28" cy="323.4" r="2.85"/>
<circle cx="320.5" cy="323.4" r="2.85"/>
</g>
<rect x="266.8" y="246.0" width="180.40" height="81.20" fill="none" stroke="#727272" stroke-width="1.05"/>
<line x1="263.50" y1="323.51" x2="266.80" y2="323.51" stroke="#727272" stroke-width="1.1"/>
<text x="260.30" y="327.51" font-size="11" fill="#4d4d4d" text-anchor="end">0.00</text>
<line x1="263.50" y1="305.05" x2="266.80" y2="305.05" stroke="#727272" stroke-width="1.1"/>
<text x="260.30" y="309.05" font-size="11" fill="#4d4d4d" text-anchor="end">0.25</text>
<line x1="263.50" y1="286.60" x2="266.80" y2="286.60" stroke="#727272" stroke-width="1.1"/>
<text x="260.30" y="290.60" font-size="11" fill="#4d4d4d" text-anchor="end">0.50</text>
<line x1="263.50" y1="268.15" x2="266.80" y2="268.15" stroke="#727272" stroke-width="1.1"/>
<text x="260.30" y="272.15" font-size="11" fill="#4d4d4d" text-anchor="end">0.75</text>
<line x1="263.50" y1="249.69" x2="266.80" y2="249.69" stroke="#727272" stroke-width="1.1"/>
<text x="260.30" y="253.69" font-size="11" fill="#4d4d4d" text-anchor="end">1.00</text>
<line x1="273.60" y1="327.20" x2="273.60" y2="330.50" stroke="#727272" stroke-width="1.1"/>
<text x="273.60" y="341.50" font-size="11" fill="#4d4d4d" text-anchor="middle">0.0</text>
<line x1="315.00" y1="327.20" x2="315.00" y2="330.50" stroke="#727272" stroke-width="1.1"/>
<text x="315.00" y="341.50" font-size="11" fill="#4d4d4d" text-anchor="middle">0.1</text>
<line x1="356.40" y1="327.20" x2="356.40" y2="330.50" stroke="#727272" stroke-width="1.1"/>
<text x="356.40" y="341.50" font-size="11" fill="#4d4d4d" text-anchor="middle">0.2</text>
<line x1="397.80" y1="327.20" x2="397.80" y2="330.50" stroke="#727272" stroke-width="1.1"/>
<text x="397.80" y="341.50" font-size="11" fill="#4d4d4d" text-anchor="middle">0.3</text>
<line x1="439.20" y1="327.20" x2="439.20" y2="330.50" stroke="#727272" stroke-width="1.1"/>
<text x="439.20" y="341.50" font-size="11" fill="#4d4d4d" text-anchor="middle">0.4</text>
<polygon points="488.90,310.10 490.75,310.32 492.60,310.53 494.45,310.73 496.30,310.93 498.15,311.11 500.00,311.29 501.85,311.45 503.70,311.61 505.56,311.75 507.41,311.88 509.26,311.99 511.11,312.09 512.96,312.17 514.81,312.23 516.66,312.27 518.51,312.28 520.36,312.27 522.21,312.24 524.06,312.18 525.91,312.09 527.76,311.98 529.61,311.84 531.46,311.68 533.31,311.50 535.16,311.29 537.01,311.06 538.87,310.82 540.72,310.55 542.57,310.27 544.42,309.98 546.27,309.67 548.12,309.34 549.97,309.00 551.82,308.65 553.67,308.28 555.52,307.90 557.37,307.51 559.22,307.11 561.07,306.70 562.92,306.28 564.77,305.84 566.62,305.40 568.47,304.94 570.32,304.47 572.18,304.00 574.03,303.51 575.88,303.02 577.73,302.51 579.58,302.00 581.43,301.47 583.28,300.94 585.13,300.40 586.98,299.85 588.83,299.30 590.68,298.73 592.53,298.16 594.38,297.58 596.23,296.99 598.08,296.40 599.93,295.80 601.78,295.19 603.63,294.58 605.49,293.97 607.34,293.35 609.19,292.72 611.04,292.09 612.89,291.45 614.74,290.82 616.59,290.18 618.44,289.53 620.29,288.89 622.14,288.24 623.99,287.59 625.84,286.94 627.69,286.29 629.54,285.64 631.39,284.99 633.24,284.34 635.09,283.69 636.94,283.04 638.80,282.39 640.65,281.75 642.50,281.11 644.35,280.47 646.20,279.84 648.05,279.21 649.90,278.58 651.75,277.96 653.60,277.35 653.60,321.92 651.75,321.88 649.90,321.84 648.05,321.80 646.20,321.76 644.35,321.72 642.50,321.68 640.65,321.63 638.80,321.59 636.94,321.54 635.09,321.50 633.24,321.45 631.39,321.40 629.54,321.35 627.69,321.30 625.84,321.25 623.99,321.19 622.14,321.14 620.29,321.08 618.44,321.03 616.59,320.97 614.74,320.91 612.89,320.85 611.04,320.79 609.19,320.72 607.34,320.66 605.49,320.59 603.63,320.53 601.78,320.46 599.93,320.39 598.08,320.32 596.23,320.25 594.38,320.17 592.53,320.10 590.68,320.02 588.83,319.94 586.98,319.86 585.13,319.78 583.28,319.70 581.43,319.61 579.58,319.53 577.73,319.44 575.88,319.36 574.03,319.27 572.18,319.18 570.32,319.08 568.47,318.99 566.62,318.90 564.77,318.80 562.92,318.71 561.07,318.61 559.22,318.52 557.37,318.42 555.52,318.33 553.67,318.23 551.82,318.13 549.97,318.04 548.12,317.95 546.27,317.86 544.42,317.77 542.57,317.68 540.72,317.60 538.87,317.53 537.01,317.46 535.16,317.40 533.31,317.35 531.46,317.31 529.61,317.28 527.76,317.27 525.91,317.26 524.06,317.28 522.21,317.31 520.36,317.35 518.51,317.41 516.66,317.48 514.81,317.56 512.96,317.66 511.11,317.76 509.26,317.87 507.41,317.99 505.56,318.11 503.70,318.24 501.85,318.37 500.00,318.50 498.15,318.63 496.30,318.76 494.45,318.89 492.60,319.02 490.75,319.15 488.90,319.27" fill="#c8c8c8"/>
<polyline points="488.90,315.82 490.75,315.79 492.60,315.75 494.45,315.71 496.30,315.67 498.15,315.63 500.00,315.59 501.85,315.55 503.70,315.51 505.56,315.47 507.41,315.43 509.26,315.39 511.11,315.35 512.96,315.31 514.81,315.26 516.66,315.22 518.51,315.18 520.36,315.14 522.21,315.10 524.06,315.06 525.91,315.01 527.76,314.97 529.61,314.93 531.46,314.89 533.31,314.84 535.16,314.80 537.01,314.76 538.87,314.71 540.72,314.67 542.57,314.63 544.42,314.58 546.27,314.54 548.12,314.49 549.97,314.45 551.82,314.40 553.67,314.36 555.52,314.31 557.37,314.27 559.22,314.22 561.07,314.18 562.92,314.13 564.77,314.09 566.62,314.04 568.47,313.99 570.32,313.95 572.18,313.90 574.03,313.85 575.88,313.80 577.73,313.76 579.58,313.71 581.43,313.66 583.28,313.61 585.13,313.56 586.98,313.52 588.83,313.47 590.68,313.42 592.53,313.37 594.38,313.32 596.23,313.27 598.08,313.22 599.93,313.17 601.78,313.12 603.63,313.07 605.49,313.02 607.34,312.97 609.19,312.92 611.04,312.87 612.89,312.82 614.74,312.76 616.59,312.71 618.44,312.66 620.29,312.61 622.14,312.56 623.99,312.50 625.84,312.45 627.69,312.40 629.54,312.35 631.39,312.29 633.24,312.24 635.09,312.18 636.94,312.13 638.80,312.08 640.65,312.02 642.50,311.97 644.35,311.91 646.20,311.86 648.05,311.80 649.90,311.75 651.75,311.69 653.60,311.63" fill="none" stroke="#3366ff" stroke-width="2.2" stroke-linejoin="round"/>
<g fill="#000">
<circle cx="510.2" cy="249.75" r="2.85"/>
<circle cx="512.5" cy="249.75" r="2.85"/>
<circle cx="520.7" cy="249.75" r="2.85"/>
<circle cx="563.1" cy="249.75" r="2.85"/>
<circle cx="603.3" cy="249.75" r="2.85"/>
<circle cx="507.5" cy="256.5" r="2.85"/>
<circle cx="520.7" cy="262.7" r="2.85"/>
<circle cx="553" cy="262.7" r="2.85"/>
<circle cx="537.2" cy="270.9" r="2.85"/>
<circle cx="537.2" cy="274.2" r="2.85"/>
<circle cx="491.2" cy="283.9" r="2.85"/>
<circle cx="496.3" cy="289.5" r="2.85"/>
<circle cx="501.4" cy="291.2" r="2.85"/>
<circle cx="527.3" cy="286.3" r="2.85"/>
<circle cx="536.4" cy="286.4" r="2.85"/>
<circle cx="593.8" cy="286.4" r="2.85"/>
<circle cx="513.2" cy="293.4" r="2.85"/>
<circle cx="527.9" cy="290.6" r="2.85"/>
<circle cx="531.6" cy="293.6" r="2.85"/>
<circle cx="534" cy="298.6" r="2.85"/>
<circle cx="539" cy="297.1" r="2.85"/>
<circle cx="493.7" cy="299.1" r="2.85"/>
<circle cx="497.6" cy="302.6" r="2.85"/>
<circle cx="489.3" cy="306.7" r="2.85"/>
<circle cx="496.7" cy="308.3" r="2.85"/>
<circle cx="502.5" cy="310.8" r="2.85"/>
<circle cx="518.2" cy="305" r="2.85"/>
<circle cx="522.2" cy="305" r="2.85"/>
<circle cx="522.6" cy="310.8" r="2.85"/>
<circle cx="527.9" cy="308.3" r="2.85"/>
<circle cx="513.4" cy="311.8" r="2.85"/>
<circle cx="509.9" cy="314" r="2.85"/>
<circle cx="518.7" cy="314.9" r="2.85"/>
<circle cx="497.6" cy="317.1" r="2.85"/>
<circle cx="495.5" cy="318.4" r="2.85"/>
<circle cx="504.6" cy="320.6" r="2.85"/>
<circle cx="525.7" cy="317.5" r="2.85"/>
<circle cx="530.9" cy="318" r="2.85"/>
<circle cx="538.8" cy="317.5" r="2.85"/>
<circle cx="489.3" cy="321.5" r="2.85"/>
<circle cx="490.1" cy="323.4" r="2.85"/>
<circle cx="492.3" cy="323.4" r="2.85"/>
<circle cx="494.51" cy="323.4" r="2.85"/>
<circle cx="496.71" cy="323.4" r="2.85"/>
<circle cx="498.91" cy="323.4" r="2.85"/>
<circle cx="501.11" cy="323.4" r="2.85"/>
<circle cx="503.32" cy="323.4" r="2.85"/>
<circle cx="505.52" cy="323.4" r="2.85"/>
<circle cx="507.72" cy="323.4" r="2.85"/>
<circle cx="509.93" cy="323.4" r="2.85"/>
<circle cx="512.13" cy="323.4" r="2.85"/>
<circle cx="514.33" cy="323.4" r="2.85"/>
<circle cx="516.54" cy="323.4" r="2.85"/>
<circle cx="518.74" cy="323.4" r="2.85"/>
<circle cx="520.94" cy="323.4" r="2.85"/>
<circle cx="523.14" cy="323.4" r="2.85"/>
<circle cx="525.35" cy="323.4" r="2.85"/>
<circle cx="527.55" cy="323.4" r="2.85"/>
<circle cx="529.75" cy="323.4" r="2.85"/>
<circle cx="531.96" cy="323.4" r="2.85"/>
<circle cx="534.16" cy="323.4" r="2.85"/>
<circle cx="536.36" cy="323.4" r="2.85"/>
<circle cx="538.56" cy="323.4" r="2.85"/>
<circle cx="540.77" cy="323.4" r="2.85"/>
<circle cx="542.97" cy="323.4" r="2.85"/>
<circle cx="545.17" cy="323.4" r="2.85"/>
<circle cx="547.38" cy="323.4" r="2.85"/>
<circle cx="549.58" cy="323.4" r="2.85"/>
<circle cx="551.78" cy="323.4" r="2.85"/>
<circle cx="553.99" cy="323.4" r="2.85"/>
<circle cx="556.19" cy="323.4" r="2.85"/>
<circle cx="558.39" cy="323.4" r="2.85"/>
<circle cx="560.59" cy="323.4" r="2.85"/>
<circle cx="562.8" cy="323.4" r="2.85"/>
<circle cx="565.0" cy="323.4" r="2.85"/>
<circle cx="571.7" cy="323.4" r="2.85"/>
<circle cx="580.7" cy="323.4" r="2.85"/>
<circle cx="586.2" cy="323.4" r="2.85"/>
<circle cx="593.7" cy="323.4" r="2.85"/>
<circle cx="596.6" cy="323.4" r="2.85"/>
<circle cx="629.9" cy="323.4" r="2.85"/>
<circle cx="653.5" cy="323.4" r="2.85"/>
</g>
<rect x="481.2" y="246.0" width="180.30" height="81.20" fill="none" stroke="#727272" stroke-width="1.05"/>
<line x1="477.90" y1="323.51" x2="481.20" y2="323.51" stroke="#727272" stroke-width="1.1"/>
<text x="474.70" y="327.51" font-size="11" fill="#4d4d4d" text-anchor="end">0.00</text>
<line x1="477.90" y1="305.05" x2="481.20" y2="305.05" stroke="#727272" stroke-width="1.1"/>
<text x="474.70" y="309.05" font-size="11" fill="#4d4d4d" text-anchor="end">0.25</text>
<line x1="477.90" y1="286.60" x2="481.20" y2="286.60" stroke="#727272" stroke-width="1.1"/>
<text x="474.70" y="290.60" font-size="11" fill="#4d4d4d" text-anchor="end">0.50</text>
<line x1="477.90" y1="268.15" x2="481.20" y2="268.15" stroke="#727272" stroke-width="1.1"/>
<text x="474.70" y="272.15" font-size="11" fill="#4d4d4d" text-anchor="end">0.75</text>
<line x1="477.90" y1="249.69" x2="481.20" y2="249.69" stroke="#727272" stroke-width="1.1"/>
<text x="474.70" y="253.69" font-size="11" fill="#4d4d4d" text-anchor="end">1.00</text>
<line x1="524.40" y1="327.20" x2="524.40" y2="330.50" stroke="#727272" stroke-width="1.1"/>
<text x="524.40" y="341.50" font-size="11" fill="#4d4d4d" text-anchor="middle">4</text>
<line x1="582.50" y1="327.20" x2="582.50" y2="330.50" stroke="#727272" stroke-width="1.1"/>
<text x="582.50" y="341.50" font-size="11" fill="#4d4d4d" text-anchor="middle">5</text>
<line x1="640.60" y1="327.20" x2="640.60" y2="330.50" stroke="#727272" stroke-width="1.1"/>
<text x="640.60" y="341.50" font-size="11" fill="#4d4d4d" text-anchor="middle">6</text>
<text transform="translate(142.70,33.8) scale(1,1.06)" font-size="13.4" font-weight="bold" fill="#1a1a1a" text-anchor="middle">distance to the river bank [m]</text>
<text transform="translate(357.00,34.9) scale(1,1.1)" font-size="13.4" font-weight="bold" fill="#1a1a1a" text-anchor="middle">DIFN</text>
<text transform="translate(571.35,33.5) scale(1,1.03)" font-size="13.4" font-weight="bold" fill="#1a1a1a" text-anchor="middle">soil pH</text>
<text transform="translate(675.4,83.85) rotate(90)" x="0" y="0" font-size="13.3" font-weight="bold" fill="#1a1a1a" text-anchor="middle">Seedlings</text>
<text transform="translate(675.4,186.05) rotate(90)" x="0" y="0" font-size="13.3" font-weight="bold" fill="#1a1a1a" text-anchor="middle">Short saplings</text>
<text transform="translate(675.4,287.05) rotate(90)" x="0" y="0" font-size="13.3" font-weight="bold" fill="#1a1a1a" text-anchor="middle">Tall saplings</text>
<text transform="translate(11.5,183.55) rotate(-90)" x="0" y="0" font-size="15.7" font-weight="bold" fill="#000" text-anchor="middle">Fraction of age-height class in regeneration layer</text>
</svg></body></html>
